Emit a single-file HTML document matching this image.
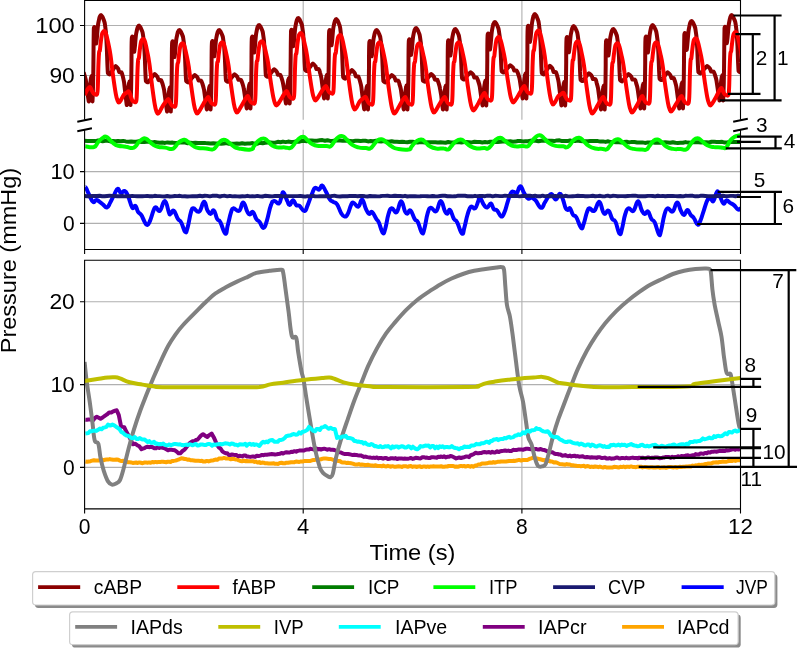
<!DOCTYPE html>
<html lang="en"><head><meta charset="utf-8"><title>Pressure traces</title>
<style>html,body{margin:0;padding:0;background:#fff;overflow:hidden;width:797px;height:649px}svg{display:block;will-change:transform}text{filter:grayscale(1)}</style></head>
<body>
<svg width="797" height="649" viewBox="0 0 797 649" font-family="'Liberation Sans', sans-serif" fill="#000">
<rect width="797" height="649" fill="#fff"/>
<defs>
<clipPath id="c1"><rect x="84.6" y="0.5" width="655.9" height="119.3"/></clipPath>
<clipPath id="c2"><rect x="84.6" y="129.8" width="655.9" height="119.7"/></clipPath>
<clipPath id="c3"><rect x="84.6" y="260.3" width="655.9" height="248.6"/></clipPath>
</defs>
<path d="M303.2 0.5V119.8 M303.2 129.8V249.5 M303.2 260.3V508.9 M521.9 0.5V119.8 M521.9 129.8V249.5 M521.9 260.3V508.9 M84.6 25.5H740.5 M84.6 75.5H740.5 M84.6 171.6H740.5 M84.6 223.4H740.5 M84.6 301.7H740.5 M84.6 384.6H740.5 M84.6 467.4H740.5" stroke="#b0b0b0" stroke-width="1.1" fill="none"/>
<path d="M83.6 72.1 C83.7 72.6 85.5 78.3 85.8 79.8 C86.1 81.3 87.6 93.5 87.8 94.9 C88.0 96.4 88.7 101.8 88.8 101.4 C88.9 101.0 89.8 90.2 89.9 88.5 C90.0 86.8 90.9 75.9 91.0 75.9 C91.1 75.9 91.7 86.8 91.8 88.5 C91.9 90.2 92.4 101.7 92.5 101.4 C92.6 101.1 93.0 87.3 93.1 84.1 C93.2 81.0 93.5 57.6 93.5 53.9 C93.5 50.3 93.7 30.7 93.8 28.9 C93.9 27.1 94.4 26.7 94.5 27.2 C94.6 27.7 95.3 35.6 95.4 36.7 C95.5 37.8 96.1 43.8 96.2 43.6 C96.3 43.4 97.1 35.4 97.2 34.1 C97.3 32.8 98.0 24.9 98.2 23.7 C98.4 22.6 99.5 17.4 99.7 16.8 C99.9 16.3 100.9 15.1 101.1 15.1 C101.3 15.1 102.3 16.6 102.5 16.9 C102.7 17.2 103.6 19.6 103.8 20.0 C104.0 20.5 104.8 23.2 104.9 24.1 C105.0 25.0 105.9 31.5 106.0 33.1 C106.1 34.6 106.7 45.4 106.8 47.5 C106.9 49.6 107.3 62.8 107.4 64.5 C107.5 66.3 107.7 72.4 107.9 73.1 C108.1 73.7 109.5 74.5 109.8 74.4 C110.0 74.3 111.4 72.1 111.7 71.7 C111.9 71.4 113.1 69.4 113.4 69.0 C113.6 68.7 115.3 65.9 115.6 65.9 C115.9 65.9 118.1 68.6 118.3 69.0 C118.5 69.5 119.0 72.0 119.2 72.2 C119.4 72.4 121.2 71.9 121.4 72.2 C121.7 72.5 122.6 75.5 122.8 76.2 C122.9 76.9 123.9 81.1 124.1 82.5 C124.3 84.0 125.7 96.8 125.9 98.3 C126.1 99.8 126.7 105.3 126.8 105.0 C126.9 104.7 127.8 94.7 127.9 93.1 C128.0 91.5 128.9 81.6 129.0 81.6 C129.1 81.6 129.7 91.5 129.8 93.1 C129.9 94.7 130.4 105.3 130.5 105.0 C130.6 104.7 131.0 92.0 131.1 89.1 C131.2 86.2 131.5 64.7 131.5 61.3 C131.5 57.9 131.7 39.9 131.8 38.3 C131.9 36.7 132.4 36.2 132.5 36.7 C132.6 37.2 133.3 44.4 133.4 45.5 C133.5 46.5 134.1 52.0 134.2 51.8 C134.3 51.6 135.1 44.3 135.2 43.1 C135.3 41.9 136.0 34.6 136.2 33.5 C136.4 32.5 137.5 27.7 137.7 27.2 C137.9 26.7 138.9 25.6 139.1 25.6 C139.3 25.6 140.3 27.0 140.5 27.3 C140.7 27.6 141.6 29.9 141.8 30.3 C142.0 30.8 142.8 33.4 142.9 34.2 C143.0 35.0 143.9 41.3 144.0 42.8 C144.1 44.3 144.7 54.5 144.8 56.5 C144.9 58.5 145.3 71.2 145.4 72.8 C145.5 74.5 145.7 80.4 145.9 81.0 C146.1 81.6 147.7 82.4 148.0 82.3 C148.3 82.2 149.9 80.1 150.1 79.7 C150.4 79.4 151.7 77.5 152.0 77.1 C152.3 76.8 154.2 74.1 154.5 74.1 C154.9 74.1 157.3 76.7 157.6 77.1 C157.8 77.5 158.3 79.9 158.6 80.1 C158.8 80.3 160.8 79.9 161.1 80.1 C161.3 80.4 162.4 83.4 162.6 84.0 C162.8 84.7 163.9 88.6 164.1 90.0 C164.3 91.4 165.9 103.6 166.1 105.1 C166.3 106.5 167.0 111.9 167.1 111.5 C167.2 111.1 168.1 100.9 168.2 99.3 C168.3 97.7 169.2 87.5 169.3 87.5 C169.4 87.5 170.0 97.7 170.1 99.3 C170.2 100.9 170.7 111.8 170.8 111.5 C170.9 111.2 171.3 98.2 171.4 95.2 C171.5 92.2 171.8 70.2 171.8 66.7 C171.8 63.3 172.0 44.8 172.1 43.1 C172.2 41.4 172.7 41.0 172.8 41.5 C172.9 42.0 173.6 49.4 173.7 50.5 C173.8 51.5 174.4 57.1 174.5 57.0 C174.6 56.8 175.4 49.3 175.5 48.0 C175.6 46.8 176.3 39.3 176.5 38.2 C176.7 37.2 177.8 32.3 178.0 31.7 C178.2 31.2 179.2 30.1 179.4 30.1 C179.6 30.1 180.6 31.4 180.8 31.7 C181.0 32.0 181.9 34.0 182.1 34.5 C182.3 34.9 183.1 37.3 183.2 38.0 C183.3 38.8 184.2 44.6 184.3 46.0 C184.4 47.3 185.0 56.8 185.1 58.6 C185.2 60.5 185.6 72.2 185.7 73.7 C185.8 75.2 186.0 80.7 186.2 81.2 C186.4 81.8 188.0 82.5 188.3 82.4 C188.5 82.4 190.1 80.4 190.3 80.1 C190.6 79.7 191.9 78.0 192.2 77.7 C192.5 77.3 194.3 74.9 194.6 74.9 C195.0 74.9 197.3 77.3 197.6 77.7 C197.8 78.1 198.3 80.3 198.6 80.5 C198.8 80.6 200.8 80.2 201.0 80.5 C201.3 80.7 202.3 83.4 202.5 84.0 C202.7 84.6 203.7 88.3 204.0 89.6 C204.2 90.9 205.7 102.1 205.9 103.5 C206.1 104.8 206.8 109.8 206.9 109.4 C207.0 109.0 207.9 99.1 208.0 97.5 C208.1 95.9 209.0 86.0 209.1 86.0 C209.2 86.0 209.8 95.9 209.9 97.5 C210.0 99.1 210.5 109.7 210.6 109.4 C210.7 109.1 211.1 96.4 211.2 93.5 C211.3 90.6 211.6 69.2 211.6 65.8 C211.6 62.4 211.8 44.4 211.9 42.8 C212.0 41.1 212.5 40.7 212.6 41.2 C212.7 41.7 213.4 48.9 213.5 49.9 C213.6 50.9 214.2 56.4 214.3 56.3 C214.4 56.1 215.2 48.8 215.3 47.5 C215.4 46.3 216.1 39.1 216.3 38.0 C216.5 37.0 217.6 32.2 217.8 31.7 C218.0 31.2 219.0 30.1 219.2 30.1 C219.4 30.1 220.4 31.4 220.6 31.7 C220.8 32.0 221.7 34.0 221.9 34.4 C222.1 34.8 222.9 37.2 223.0 37.9 C223.1 38.7 224.0 44.4 224.1 45.8 C224.2 47.1 224.8 56.5 224.9 58.3 C225.0 60.1 225.4 71.7 225.5 73.2 C225.6 74.7 225.8 80.0 226.0 80.6 C226.2 81.2 227.8 81.9 228.1 81.8 C228.3 81.7 229.9 79.7 230.1 79.4 C230.4 79.1 231.7 77.4 232.0 77.1 C232.3 76.7 234.1 74.3 234.5 74.3 C234.8 74.3 237.2 76.7 237.4 77.1 C237.7 77.4 238.2 79.6 238.4 79.8 C238.7 80.0 240.6 79.6 240.9 79.8 C241.1 80.1 242.2 82.7 242.4 83.3 C242.6 83.9 243.6 87.5 243.8 88.8 C244.1 90.1 245.6 101.2 245.8 102.5 C246.0 103.8 246.7 108.8 246.8 108.4 C246.9 108.0 247.8 97.5 247.9 95.9 C248.0 94.3 248.9 83.8 249.0 83.8 C249.1 83.8 249.7 94.3 249.8 95.9 C249.9 97.5 250.4 108.7 250.5 108.4 C250.6 108.1 251.0 94.8 251.1 91.7 C251.2 88.7 251.5 66.1 251.5 62.6 C251.5 59.0 251.7 40.1 251.8 38.4 C251.9 36.7 252.4 36.3 252.5 36.8 C252.6 37.3 253.3 44.9 253.4 45.9 C253.5 47.0 254.1 52.8 254.2 52.6 C254.3 52.4 255.1 44.7 255.2 43.4 C255.3 42.1 256.0 34.5 256.2 33.4 C256.4 32.3 257.5 27.3 257.7 26.8 C257.9 26.2 258.9 25.1 259.1 25.1 C259.3 25.1 260.3 26.4 260.5 26.7 C260.7 27.0 261.6 29.0 261.8 29.4 C262.0 29.8 262.8 32.2 262.9 32.9 C263.0 33.7 263.9 39.4 264.0 40.8 C264.1 42.1 264.7 51.5 264.8 53.3 C264.9 55.1 265.3 66.7 265.4 68.2 C265.5 69.7 265.7 75.0 265.9 75.6 C266.1 76.2 267.6 76.9 267.9 76.8 C268.2 76.7 269.6 74.7 269.9 74.4 C270.2 74.1 271.4 72.4 271.7 72.1 C272.0 71.7 273.7 69.3 274.1 69.3 C274.4 69.3 276.7 71.7 277.0 72.1 C277.2 72.4 277.7 74.6 277.9 74.8 C278.1 75.0 280.0 74.6 280.3 74.8 C280.5 75.1 281.5 77.7 281.7 78.3 C281.9 78.9 282.9 82.5 283.1 83.8 C283.4 85.1 284.9 96.2 285.0 97.5 C285.2 98.8 285.9 103.9 286.0 103.4 C286.1 102.9 287.0 92.3 287.1 90.6 C287.2 88.9 288.1 78.2 288.2 78.2 C288.3 78.2 288.9 88.9 289.0 90.6 C289.1 92.3 289.6 103.7 289.7 103.4 C289.8 103.1 290.2 89.5 290.3 86.3 C290.4 83.2 290.7 60.1 290.7 56.5 C290.7 52.8 290.9 33.5 291.0 31.7 C291.1 30.0 291.6 29.5 291.7 30.0 C291.8 30.6 292.5 38.3 292.6 39.4 C292.7 40.5 293.3 46.4 293.4 46.2 C293.5 46.1 294.3 38.2 294.4 36.9 C294.5 35.6 295.2 27.8 295.4 26.6 C295.6 25.5 296.7 20.4 296.9 19.8 C297.1 19.2 298.1 18.1 298.3 18.1 C298.5 18.1 299.5 19.4 299.7 19.7 C299.9 20.0 300.8 22.1 301.0 22.5 C301.2 22.9 302.0 25.4 302.1 26.1 C302.2 26.9 303.1 32.8 303.2 34.2 C303.3 35.6 303.9 45.1 304.0 47.0 C304.1 48.9 304.5 60.7 304.6 62.3 C304.7 63.8 304.9 69.3 305.1 69.9 C305.3 70.5 306.7 71.2 307.0 71.1 C307.2 71.0 308.6 69.0 308.9 68.7 C309.1 68.4 310.3 66.6 310.6 66.3 C310.9 65.9 312.5 63.5 312.8 63.5 C313.2 63.5 315.3 65.9 315.5 66.3 C315.8 66.7 316.2 68.9 316.4 69.1 C316.7 69.3 318.5 68.8 318.7 69.1 C318.9 69.3 319.9 72.1 320.0 72.7 C320.2 73.3 321.2 77.0 321.4 78.3 C321.6 79.6 323.0 91.0 323.2 92.4 C323.4 93.7 324.0 98.8 324.1 98.4 C324.2 98.0 325.1 88.1 325.2 86.5 C325.3 84.9 326.2 75.0 326.3 75.0 C326.4 75.0 327.0 84.9 327.1 86.5 C327.2 88.1 327.7 98.7 327.8 98.4 C327.9 98.1 328.3 85.4 328.4 82.5 C328.5 79.6 328.8 58.2 328.8 54.8 C328.8 51.4 329.0 33.4 329.1 31.8 C329.2 30.1 329.7 29.7 329.8 30.2 C329.9 30.7 330.6 37.9 330.7 38.9 C330.8 39.9 331.4 45.4 331.5 45.3 C331.6 45.1 332.4 37.8 332.5 36.5 C332.6 35.3 333.3 28.1 333.5 27.0 C333.7 26.0 334.8 21.2 335.0 20.7 C335.2 20.2 336.2 19.1 336.4 19.1 C336.6 19.1 337.6 20.6 337.8 20.9 C338.0 21.2 338.9 23.6 339.1 24.1 C339.3 24.5 340.1 27.3 340.2 28.1 C340.3 29.0 341.2 35.6 341.3 37.2 C341.4 38.7 342.0 49.5 342.1 51.6 C342.2 53.7 342.6 67.0 342.7 68.8 C342.8 70.5 343.0 76.7 343.2 77.3 C343.4 78.0 345.0 78.8 345.3 78.7 C345.6 78.6 347.1 76.4 347.4 76.0 C347.7 75.6 349.0 73.7 349.3 73.3 C349.6 72.9 351.4 70.1 351.8 70.1 C352.2 70.1 354.5 72.9 354.8 73.3 C355.1 73.7 355.6 76.2 355.8 76.4 C356.0 76.7 358.0 76.2 358.3 76.4 C358.6 76.7 359.6 79.8 359.8 80.5 C360.0 81.2 361.1 85.4 361.3 86.8 C361.5 88.3 363.1 101.1 363.3 102.6 C363.5 104.1 364.2 109.7 364.3 109.4 C364.4 109.1 365.3 99.1 365.4 97.5 C365.5 95.9 366.4 86.0 366.5 86.0 C366.6 86.0 367.2 95.9 367.3 97.5 C367.4 99.1 367.9 109.7 368.0 109.4 C368.1 109.1 368.5 96.4 368.6 93.5 C368.7 90.6 369.0 69.2 369.0 65.8 C369.0 62.4 369.2 44.4 369.3 42.8 C369.4 41.1 369.9 40.7 370.0 41.2 C370.1 41.7 370.8 48.9 370.9 49.9 C371.0 50.9 371.6 56.4 371.7 56.3 C371.8 56.1 372.6 48.8 372.7 47.5 C372.8 46.3 373.5 39.1 373.7 38.0 C373.9 37.0 375.0 32.2 375.2 31.7 C375.4 31.2 376.4 30.1 376.6 30.1 C376.8 30.1 377.8 31.4 378.0 31.7 C378.2 32.0 379.1 34.0 379.3 34.5 C379.5 34.9 380.3 37.3 380.4 38.0 C380.5 38.8 381.4 44.6 381.5 46.0 C381.6 47.3 382.2 56.8 382.3 58.6 C382.4 60.5 382.8 72.2 382.9 73.7 C383.0 75.2 383.2 80.7 383.4 81.2 C383.6 81.8 385.2 82.5 385.4 82.4 C385.7 82.4 387.2 80.4 387.5 80.1 C387.7 79.7 389.0 78.0 389.3 77.7 C389.6 77.3 391.4 74.9 391.7 74.9 C392.1 74.9 394.4 77.3 394.6 77.7 C394.9 78.1 395.4 80.3 395.6 80.5 C395.8 80.6 397.7 80.2 398.0 80.5 C398.3 80.7 399.3 83.4 399.4 84.0 C399.6 84.6 400.7 88.3 400.9 89.6 C401.1 90.9 402.6 102.1 402.8 103.5 C403.0 104.8 403.7 109.8 403.8 109.4 C403.9 109.0 404.8 98.8 404.9 97.2 C405.0 95.6 405.9 85.4 406.0 85.4 C406.1 85.4 406.7 95.6 406.8 97.2 C406.9 98.8 407.4 109.7 407.5 109.4 C407.6 109.1 408.0 96.1 408.1 93.1 C408.2 90.2 408.5 68.2 408.5 64.7 C408.5 61.2 408.7 42.8 408.8 41.1 C408.9 39.4 409.4 39.0 409.5 39.5 C409.6 40.0 410.3 47.4 410.4 48.4 C410.5 49.5 411.1 55.1 411.2 54.9 C411.3 54.8 412.1 47.2 412.2 46.0 C412.3 44.7 413.0 37.3 413.2 36.2 C413.4 35.1 414.5 30.3 414.7 29.7 C414.9 29.2 415.9 28.1 416.1 28.1 C416.3 28.1 417.3 29.4 417.5 29.7 C417.7 30.0 418.6 32.1 418.8 32.6 C419.0 33.0 419.8 35.4 419.9 36.2 C420.0 37.0 420.9 43.0 421.0 44.4 C421.1 45.8 421.7 55.5 421.8 57.4 C421.9 59.3 422.3 71.3 422.4 72.8 C422.5 74.4 422.7 79.9 422.9 80.5 C423.1 81.1 424.6 81.8 424.9 81.8 C425.2 81.7 426.6 79.6 426.9 79.3 C427.2 79.0 428.4 77.2 428.7 76.9 C429.0 76.5 430.7 74.0 431.1 74.0 C431.4 74.0 433.7 76.5 434.0 76.9 C434.2 77.3 434.7 79.5 434.9 79.7 C435.1 79.9 437.0 79.5 437.3 79.7 C437.5 80.0 438.5 82.8 438.7 83.4 C438.9 84.0 439.9 87.7 440.1 89.1 C440.4 90.4 441.9 101.9 442.0 103.3 C442.2 104.7 442.9 109.8 443.0 109.4 C443.1 109.0 444.0 98.9 444.1 97.4 C444.2 95.8 445.1 85.7 445.2 85.7 C445.3 85.7 445.9 95.8 446.0 97.4 C446.1 98.9 446.6 109.7 446.7 109.4 C446.8 109.1 447.2 96.3 447.3 93.3 C447.4 90.4 447.7 68.7 447.7 65.2 C447.7 61.8 447.9 43.6 448.0 41.9 C448.1 40.3 448.6 39.9 448.7 40.3 C448.8 40.8 449.5 48.2 449.6 49.2 C449.7 50.2 450.3 55.8 450.4 55.6 C450.5 55.4 451.3 48.0 451.4 46.8 C451.5 45.5 452.2 38.2 452.4 37.1 C452.6 36.1 453.7 31.2 453.9 30.7 C454.1 30.2 455.1 29.1 455.3 29.1 C455.5 29.1 456.5 30.3 456.7 30.6 C456.9 30.9 457.8 32.9 458.0 33.3 C458.2 33.7 459.0 36.0 459.1 36.7 C459.2 37.5 460.1 43.0 460.2 44.4 C460.3 45.7 460.9 54.8 461.0 56.6 C461.1 58.3 461.5 69.6 461.6 71.1 C461.7 72.5 461.9 77.8 462.1 78.3 C462.3 78.9 463.9 79.5 464.1 79.5 C464.4 79.4 465.9 77.5 466.2 77.2 C466.4 76.9 467.7 75.2 468.0 74.9 C468.3 74.5 470.1 72.2 470.5 72.2 C470.8 72.2 473.1 74.5 473.4 74.9 C473.6 75.2 474.1 77.4 474.3 77.6 C474.6 77.7 476.5 77.3 476.8 77.6 C477.0 77.8 478.0 80.4 478.2 81.0 C478.4 81.6 479.5 85.1 479.7 86.3 C479.9 87.6 481.4 98.4 481.6 99.7 C481.8 100.9 482.5 105.9 482.6 105.4 C482.7 104.9 483.6 94.5 483.7 92.9 C483.8 91.3 484.7 80.8 484.8 80.8 C484.9 80.8 485.5 91.3 485.6 92.9 C485.7 94.5 486.2 105.7 486.3 105.4 C486.4 105.1 486.8 91.8 486.9 88.7 C487.0 85.7 487.3 63.1 487.3 59.6 C487.3 56.0 487.5 37.1 487.6 35.4 C487.7 33.7 488.2 33.3 488.3 33.8 C488.4 34.3 489.1 41.9 489.2 42.9 C489.3 44.0 489.9 49.8 490.0 49.6 C490.1 49.4 490.9 41.7 491.0 40.4 C491.1 39.1 491.8 31.5 492.0 30.4 C492.2 29.3 493.3 24.3 493.5 23.8 C493.7 23.2 494.7 22.1 494.9 22.1 C495.1 22.1 496.1 23.3 496.3 23.6 C496.5 23.9 497.4 25.9 497.6 26.3 C497.8 26.7 498.6 29.0 498.7 29.7 C498.8 30.5 499.7 36.0 499.8 37.4 C499.9 38.7 500.5 47.8 500.6 49.6 C500.7 51.3 501.1 62.6 501.2 64.1 C501.3 65.5 501.5 70.8 501.7 71.3 C501.9 71.9 503.5 72.5 503.8 72.5 C504.1 72.4 505.6 70.5 505.9 70.2 C506.1 69.9 507.5 68.2 507.8 67.9 C508.1 67.5 509.9 65.2 510.3 65.2 C510.6 65.2 513.0 67.5 513.2 67.9 C513.5 68.2 514.0 70.4 514.2 70.6 C514.5 70.7 516.5 70.3 516.7 70.6 C517.0 70.8 518.0 73.4 518.2 74.0 C518.4 74.6 519.5 78.1 519.7 79.3 C519.9 80.6 521.5 91.4 521.7 92.7 C521.9 93.9 522.6 98.9 522.7 98.4 C522.8 97.9 523.7 87.4 523.8 85.8 C523.9 84.1 524.8 73.5 524.9 73.5 C525.0 73.5 525.6 84.1 525.7 85.8 C525.8 87.4 526.3 98.7 526.4 98.4 C526.5 98.1 526.9 84.6 527.0 81.5 C527.1 78.4 527.4 55.6 527.4 52.0 C527.4 48.4 527.6 29.3 527.7 27.6 C527.8 25.8 528.3 25.4 528.4 25.9 C528.5 26.4 529.2 34.1 529.3 35.2 C529.4 36.2 530.0 42.1 530.1 41.9 C530.2 41.8 531.0 33.9 531.1 32.6 C531.2 31.4 531.9 23.7 532.1 22.5 C532.3 21.4 533.4 16.3 533.6 15.8 C533.8 15.2 534.8 14.1 535.0 14.1 C535.2 14.1 536.2 15.6 536.4 15.9 C536.6 16.3 537.5 18.6 537.7 19.1 C537.9 19.6 538.7 22.3 538.8 23.2 C538.9 24.1 539.8 30.8 539.9 32.4 C540.0 33.9 540.6 44.8 540.7 47.0 C540.8 49.1 541.2 62.6 541.3 64.3 C541.4 66.0 541.6 72.3 541.8 73.0 C542.0 73.7 543.5 74.4 543.8 74.4 C544.0 74.3 545.5 72.0 545.7 71.6 C546.0 71.3 547.2 69.3 547.5 68.9 C547.8 68.5 549.5 65.7 549.8 65.7 C550.2 65.7 552.4 68.5 552.6 68.9 C552.9 69.3 553.3 71.9 553.6 72.1 C553.8 72.3 555.6 71.8 555.9 72.1 C556.1 72.3 557.1 75.5 557.3 76.2 C557.5 76.9 558.5 81.1 558.7 82.6 C558.9 84.1 560.4 97.0 560.6 98.6 C560.8 100.1 561.4 105.7 561.5 105.4 C561.6 105.1 562.5 95.1 562.6 93.5 C562.7 91.9 563.6 82.0 563.7 82.0 C563.8 82.0 564.4 91.9 564.5 93.5 C564.6 95.1 565.1 105.7 565.2 105.4 C565.3 105.1 565.7 92.4 565.8 89.5 C565.9 86.6 566.2 65.2 566.2 61.8 C566.2 58.4 566.4 40.4 566.5 38.8 C566.6 37.1 567.1 36.7 567.2 37.2 C567.3 37.7 568.0 44.9 568.1 45.9 C568.2 46.9 568.8 52.4 568.9 52.3 C569.0 52.1 569.8 44.8 569.9 43.5 C570.0 42.3 570.7 35.1 570.9 34.0 C571.1 33.0 572.2 28.2 572.4 27.7 C572.6 27.2 573.6 26.1 573.8 26.1 C574.0 26.1 575.0 27.5 575.2 27.8 C575.4 28.1 576.3 30.2 576.5 30.7 C576.7 31.1 577.5 33.6 577.6 34.4 C577.7 35.2 578.6 41.3 578.7 42.8 C578.8 44.2 579.4 54.1 579.5 56.1 C579.6 58.0 580.0 70.3 580.1 71.9 C580.2 73.5 580.4 79.2 580.6 79.8 C580.8 80.4 582.4 81.2 582.6 81.1 C582.9 81.0 584.4 78.9 584.7 78.6 C584.9 78.2 586.2 76.4 586.5 76.1 C586.8 75.7 588.6 73.2 588.9 73.2 C589.3 73.2 591.6 75.7 591.8 76.1 C592.1 76.5 592.6 78.8 592.8 79.0 C593.0 79.2 594.9 78.7 595.2 79.0 C595.5 79.2 596.5 82.1 596.6 82.7 C596.8 83.4 597.9 87.2 598.1 88.6 C598.3 89.9 599.8 101.8 600.0 103.2 C600.2 104.5 600.9 109.8 601.0 109.4 C601.1 109.0 602.0 98.9 602.1 97.4 C602.2 95.8 603.1 85.7 603.2 85.7 C603.3 85.7 603.9 95.8 604.0 97.4 C604.1 98.9 604.6 109.7 604.7 109.4 C604.8 109.1 605.2 96.3 605.3 93.3 C605.4 90.4 605.7 68.7 605.7 65.2 C605.7 61.8 605.9 43.6 606.0 41.9 C606.1 40.3 606.6 39.9 606.7 40.3 C606.8 40.8 607.5 48.2 607.6 49.2 C607.7 50.2 608.3 55.8 608.4 55.6 C608.5 55.4 609.3 48.0 609.4 46.8 C609.5 45.5 610.2 38.2 610.4 37.1 C610.6 36.1 611.7 31.2 611.9 30.7 C612.1 30.2 613.1 29.1 613.3 29.1 C613.5 29.1 614.5 30.4 614.7 30.7 C614.9 31.0 615.8 33.0 616.0 33.5 C616.2 33.9 617.0 36.3 617.1 37.0 C617.2 37.8 618.1 43.6 618.2 45.0 C618.3 46.3 618.9 55.8 619.0 57.6 C619.1 59.5 619.5 71.2 619.6 72.7 C619.7 74.2 619.9 79.7 620.1 80.2 C620.3 80.8 621.9 81.5 622.1 81.4 C622.4 81.4 623.9 79.4 624.2 79.1 C624.4 78.7 625.7 77.0 626.0 76.7 C626.3 76.3 628.1 73.9 628.4 73.9 C628.8 73.9 631.1 76.3 631.3 76.7 C631.6 77.1 632.1 79.3 632.3 79.5 C632.5 79.6 634.4 79.2 634.7 79.5 C635.0 79.7 636.0 82.4 636.1 83.0 C636.3 83.6 637.4 87.3 637.6 88.6 C637.8 89.9 639.3 101.1 639.5 102.5 C639.7 103.8 640.4 108.8 640.5 108.4 C640.6 108.0 641.5 97.5 641.6 95.9 C641.7 94.3 642.6 83.8 642.7 83.8 C642.8 83.8 643.4 94.3 643.5 95.9 C643.6 97.5 644.1 108.7 644.2 108.4 C644.3 108.1 644.7 94.8 644.8 91.7 C644.9 88.7 645.2 66.1 645.2 62.6 C645.2 59.0 645.4 40.1 645.5 38.4 C645.6 36.7 646.1 36.3 646.2 36.8 C646.3 37.3 647.0 44.9 647.1 45.9 C647.2 47.0 647.8 52.8 647.9 52.6 C648.0 52.4 648.8 44.7 648.9 43.4 C649.0 42.1 649.7 34.5 649.9 33.4 C650.1 32.3 651.2 27.3 651.4 26.8 C651.6 26.2 652.6 25.1 652.8 25.1 C653.0 25.1 654.0 26.5 654.2 26.8 C654.4 27.1 655.3 29.2 655.5 29.7 C655.7 30.1 656.5 32.6 656.6 33.4 C656.7 34.2 657.6 40.3 657.7 41.8 C657.8 43.2 658.4 53.1 658.5 55.1 C658.6 57.0 659.0 69.3 659.1 70.9 C659.2 72.5 659.4 78.2 659.6 78.8 C659.8 79.4 661.3 80.2 661.6 80.1 C661.8 80.0 663.3 77.9 663.5 77.6 C663.8 77.2 665.0 75.4 665.3 75.1 C665.6 74.7 667.3 72.2 667.6 72.2 C668.0 72.2 670.2 74.7 670.4 75.1 C670.7 75.5 671.1 77.8 671.4 78.0 C671.6 78.2 673.4 77.7 673.7 78.0 C673.9 78.2 674.9 81.1 675.1 81.7 C675.3 82.4 676.3 86.2 676.5 87.6 C676.7 88.9 678.2 100.8 678.4 102.2 C678.6 103.5 679.2 108.9 679.3 108.4 C679.4 107.9 680.3 97.0 680.4 95.3 C680.5 93.6 681.4 82.6 681.5 82.6 C681.6 82.6 682.2 93.6 682.3 95.3 C682.4 97.0 682.9 108.7 683.0 108.4 C683.1 108.1 683.5 94.1 683.6 90.9 C683.7 87.7 684.0 64.1 684.0 60.4 C684.0 56.7 684.2 36.9 684.3 35.1 C684.4 33.3 684.9 32.8 685.0 33.3 C685.1 33.8 685.8 41.8 685.9 42.9 C686.0 44.0 686.6 50.1 686.7 49.9 C686.8 49.7 687.6 41.6 687.7 40.3 C687.8 39.0 688.5 31.0 688.7 29.8 C688.9 28.7 690.0 23.4 690.2 22.8 C690.4 22.3 691.4 21.1 691.6 21.1 C691.8 21.1 692.8 22.4 693.0 22.7 C693.2 23.0 694.1 25.0 694.3 25.5 C694.5 25.9 695.3 28.3 695.4 29.0 C695.5 29.8 696.4 35.6 696.5 37.0 C696.6 38.3 697.2 47.8 697.3 49.6 C697.4 51.5 697.8 63.2 697.9 64.7 C698.0 66.2 698.2 71.7 698.4 72.2 C698.6 72.8 700.2 73.5 700.5 73.4 C700.8 73.4 702.3 71.4 702.6 71.1 C702.9 70.7 704.2 69.0 704.5 68.7 C704.8 68.3 706.6 65.9 707.0 65.9 C707.4 65.9 709.7 68.3 710.0 68.7 C710.3 69.1 710.8 71.3 711.0 71.5 C711.2 71.6 713.2 71.2 713.5 71.5 C713.8 71.7 714.8 74.4 715.0 75.0 C715.2 75.6 716.3 79.3 716.5 80.6 C716.7 81.9 718.3 93.1 718.5 94.5 C718.7 95.8 719.4 100.9 719.5 100.4 C719.6 99.9 720.5 89.3 720.6 87.6 C720.7 85.9 721.6 75.2 721.7 75.2 C721.8 75.2 722.4 85.9 722.5 87.6 C722.6 89.3 723.1 100.7 723.2 100.4 C723.3 100.1 723.7 86.5 723.8 83.3 C723.9 80.2 724.2 57.1 724.2 53.5 C724.2 49.8 724.4 30.5 724.5 28.7 C724.6 27.0 725.1 26.5 725.2 27.0 C725.3 27.6 726.0 35.3 726.1 36.4 C726.2 37.5 726.8 43.4 726.9 43.2 C727.0 43.1 727.8 35.2 727.9 33.9 C728.0 32.6 728.7 24.8 728.9 23.6 C729.1 22.5 730.2 17.4 730.4 16.8 C730.6 16.2 731.6 15.1 731.8 15.1 C732.0 15.1 733.0 16.5 733.2 16.8 C733.4 17.2 734.3 19.4 734.5 19.9 C734.7 20.3 735.5 22.9 735.6 23.8 C735.7 24.6 736.6 31.0 736.7 32.5 C736.8 34.0 737.4 44.4 737.5 46.4 C737.6 48.4 738.0 61.2 738.1 62.9 C738.2 64.5 738.4 70.5 738.6 71.2 C738.8 71.8 740.4 72.5 740.6 72.5 C740.9 72.4 742.4 70.2 742.6 69.8 C742.9 69.5 744.2 67.6 744.5 67.2 C744.8 66.9 746.5 64.2 746.9 64.2 C747.2 64.2 749.5 66.8 749.8 67.2 C750.0 67.6 750.5 70.1 750.7 70.3 C750.9 70.5 752.9 70.0 753.1 70.3 C753.4 70.5 754.4 73.5 754.6 74.2 C754.8 74.9 755.8 78.9 756.0 80.3 C756.2 81.7 757.8 94.5 757.9 95.5" stroke="#8b0000" stroke-width="4.0" fill="none" stroke-linejoin="round" stroke-linecap="butt" clip-path="url(#c1)"/>
<path d="M84.6 95.0 C85.1 94.0 86.0 91.6 87.1 90.0 C88.2 88.4 89.1 86.9 90.0 87.0 C90.9 87.1 91.1 89.3 91.8 90.6 C92.5 91.9 92.8 92.7 93.5 93.4 C94.2 94.2 94.7 94.2 95.4 94.4 C96.1 94.5 96.6 95.4 97.1 94.0 C97.6 92.6 97.5 93.5 97.8 87.3 C98.1 81.1 98.2 70.0 98.5 63.0 C98.8 56.1 98.8 55.1 99.1 52.5 C99.4 50.0 99.6 52.4 99.9 50.3 C100.2 48.2 100.4 45.1 100.8 42.0 C101.2 38.8 101.5 36.6 101.9 34.6 C102.3 32.6 102.6 32.6 103.0 31.9 C103.4 31.2 103.6 31.1 104.1 31.1 C104.6 31.1 104.9 31.2 105.3 32.0 C105.7 32.7 105.7 32.6 106.3 34.7 C106.9 36.8 107.3 38.5 108.1 42.5 C108.9 46.5 109.4 47.9 110.4 54.6 C111.4 61.3 112.0 68.2 113.1 76.0 C114.2 83.9 114.9 89.0 115.8 93.8 C116.7 98.7 116.9 98.5 117.5 100.3 C118.1 102.0 118.1 102.4 118.8 102.4 C119.5 102.4 119.8 101.8 120.8 100.3 C121.8 98.7 122.9 96.0 124.0 94.6 C125.1 93.1 125.5 93.5 126.5 92.9 C127.5 92.3 128.1 90.8 129.0 91.5 C129.9 92.2 130.1 94.6 130.8 96.5 C131.5 98.3 131.8 99.8 132.5 100.9 C133.2 102.0 133.7 101.7 134.4 101.9 C135.1 102.0 135.6 102.9 136.1 101.5 C136.6 100.2 136.5 101.0 136.8 94.9 C137.1 88.7 137.2 77.7 137.5 70.8 C137.8 63.8 137.8 62.8 138.1 60.3 C138.4 57.7 138.6 60.1 138.9 58.0 C139.2 56.0 139.4 52.9 139.8 49.8 C140.2 46.7 140.5 44.5 140.9 42.5 C141.3 40.5 141.6 40.5 142.0 39.8 C142.4 39.1 142.6 39.0 143.1 39.0 C143.6 39.0 143.9 39.1 144.3 39.9 C144.7 40.6 144.7 40.5 145.3 42.7 C145.9 44.9 146.3 46.8 147.1 51.0 C147.9 55.1 148.4 56.6 149.4 63.7 C150.4 70.7 151.0 77.8 152.1 86.1 C153.2 94.3 153.9 99.7 154.8 104.7 C155.7 109.8 155.9 109.7 156.5 111.5 C157.1 113.3 157.1 113.7 157.8 113.7 C158.5 113.7 158.8 113.1 159.8 111.5 C160.8 109.8 161.8 107.4 163.0 105.5 C164.2 103.6 164.6 103.2 165.7 101.9 C166.7 100.6 167.4 98.9 168.3 99.0 C169.2 99.1 169.4 101.3 170.1 102.6 C170.8 103.9 171.1 104.7 171.8 105.4 C172.5 106.2 173.0 106.2 173.7 106.4 C174.4 106.5 174.9 107.4 175.4 106.0 C175.9 104.6 175.8 105.5 176.1 99.3 C176.4 93.2 176.5 82.1 176.8 75.1 C177.1 68.1 177.1 67.1 177.4 64.6 C177.7 62.0 177.9 64.4 178.2 62.3 C178.5 60.2 178.7 57.2 179.1 54.0 C179.5 50.9 179.8 48.7 180.2 46.7 C180.6 44.7 180.9 44.7 181.3 44.0 C181.7 43.3 181.9 43.2 182.4 43.2 C182.9 43.2 183.2 43.3 183.6 44.0 C184.0 44.7 184.0 44.6 184.6 46.7 C185.2 48.8 185.6 50.5 186.4 54.4 C187.2 58.4 187.7 59.8 188.7 66.4 C189.7 73.0 190.3 79.8 191.4 87.5 C192.5 95.2 193.2 100.3 194.1 105.1 C195.0 109.8 195.2 109.7 195.8 111.4 C196.4 113.1 196.4 113.5 197.1 113.5 C197.8 113.5 198.1 112.9 199.1 111.4 C200.1 109.8 201.1 107.9 202.3 105.8 C203.5 103.7 204.0 102.7 205.2 100.9 C206.4 99.1 207.2 97.0 208.1 96.9 C209.0 96.8 209.2 99.2 209.9 100.5 C210.6 101.8 210.9 102.6 211.6 103.3 C212.3 104.1 212.8 104.1 213.5 104.3 C214.2 104.4 214.7 105.3 215.2 104.0 C215.7 102.6 215.6 103.5 215.9 97.4 C216.2 91.3 216.3 80.4 216.6 73.6 C216.9 66.7 216.9 65.7 217.2 63.2 C217.5 60.7 217.7 63.1 218.0 61.0 C218.3 58.9 218.5 55.9 218.9 52.9 C219.3 49.8 219.6 47.6 220.0 45.6 C220.4 43.7 220.7 43.6 221.1 43.0 C221.5 42.3 221.7 42.2 222.2 42.2 C222.7 42.2 223.0 42.3 223.4 43.0 C223.8 43.7 223.8 43.6 224.4 45.7 C225.0 47.8 225.4 49.5 226.2 53.4 C227.0 57.4 227.5 58.8 228.5 65.4 C229.5 72.0 230.1 78.7 231.2 86.4 C232.3 94.1 233.0 99.2 233.9 104.0 C234.8 108.7 235.0 108.6 235.6 110.3 C236.2 112.0 236.2 112.4 236.9 112.4 C237.6 112.4 237.9 111.8 238.9 110.3 C239.9 108.7 240.9 106.8 242.1 104.7 C243.3 102.6 243.8 101.6 244.8 99.9 C245.9 98.1 246.7 96.0 247.6 95.9 C248.5 95.8 248.7 98.2 249.4 99.5 C250.1 100.8 250.4 101.6 251.1 102.3 C251.8 103.1 252.3 103.1 253.0 103.3 C253.7 103.4 254.2 104.3 254.7 103.0 C255.2 101.6 255.1 102.5 255.4 96.4 C255.7 90.3 255.8 79.4 256.1 72.6 C256.4 65.7 256.4 64.7 256.7 62.2 C257.0 59.7 257.2 62.1 257.5 60.0 C257.8 57.9 258.0 54.9 258.4 51.9 C258.8 48.8 259.1 46.6 259.5 44.6 C259.9 42.7 260.2 42.6 260.6 42.0 C261.0 41.3 261.2 41.2 261.7 41.2 C262.2 41.2 262.5 41.3 262.9 42.0 C263.3 42.6 263.3 42.5 263.9 44.4 C264.5 46.3 264.9 47.9 265.7 51.5 C266.5 55.1 267.0 56.4 268.0 62.4 C269.0 68.4 269.6 74.6 270.7 81.6 C271.8 88.7 272.5 93.3 273.4 97.7 C274.3 102.1 274.5 101.9 275.1 103.5 C275.7 105.0 275.7 105.4 276.4 105.4 C277.1 105.4 277.4 104.9 278.4 103.5 C279.4 102.1 280.5 100.2 281.6 98.3 C282.7 96.5 283.1 95.7 284.1 94.2 C285.1 92.8 285.7 90.8 286.6 90.9 C287.5 91.0 287.7 93.2 288.4 94.5 C289.1 95.8 289.4 96.5 290.1 97.3 C290.8 98.0 291.3 98.1 292.0 98.2 C292.7 98.4 293.2 99.4 293.7 97.9 C294.2 96.5 294.1 97.4 294.4 91.0 C294.7 84.6 294.8 73.2 295.1 66.0 C295.4 58.8 295.4 57.8 295.7 55.1 C296.0 52.5 296.2 55.0 296.5 52.8 C296.8 50.7 297.0 47.5 297.4 44.3 C297.8 41.1 298.1 38.8 298.5 36.7 C298.9 34.6 299.2 34.6 299.6 33.9 C300.0 33.2 300.2 33.1 300.7 33.1 C301.2 33.1 301.5 33.2 301.9 33.9 C302.3 34.6 302.3 34.5 302.9 36.5 C303.5 38.5 303.9 40.1 304.7 43.9 C305.5 47.6 306.0 49.0 307.0 55.3 C308.0 61.6 308.6 68.1 309.7 75.5 C310.8 82.9 311.5 87.7 312.4 92.3 C313.3 96.9 313.5 96.8 314.1 98.4 C314.7 100.0 314.7 100.4 315.4 100.4 C316.1 100.4 316.4 99.9 317.4 98.4 C318.4 96.9 319.4 94.9 320.6 93.0 C321.8 91.1 322.2 90.5 323.2 89.1 C324.3 87.7 325.0 85.8 325.9 85.9 C326.8 86.0 327.0 88.2 327.7 89.5 C328.4 90.8 328.7 91.7 329.4 92.4 C330.1 93.2 330.6 93.2 331.3 93.3 C332.0 93.4 332.5 94.3 333.0 93.0 C333.5 91.7 333.4 92.5 333.7 86.8 C334.0 81.1 334.1 70.9 334.4 64.5 C334.7 58.1 334.7 57.1 335.0 54.8 C335.3 52.4 335.5 54.7 335.8 52.7 C336.1 50.8 336.3 48.0 336.7 45.1 C337.1 42.2 337.4 40.2 337.8 38.3 C338.2 36.5 338.5 36.5 338.9 35.8 C339.3 35.2 339.5 35.1 340.0 35.1 C340.5 35.1 340.8 35.2 341.2 36.0 C341.6 36.7 341.6 36.6 342.2 38.8 C342.8 41.0 343.2 42.8 344.0 47.0 C344.8 51.1 345.3 52.6 346.3 59.6 C347.3 66.6 347.9 73.7 349.0 81.9 C350.1 90.1 350.8 95.4 351.7 100.5 C352.6 105.5 352.8 105.4 353.4 107.2 C354.0 109.0 354.0 109.4 354.7 109.4 C355.4 109.4 355.7 108.8 356.7 107.2 C357.7 105.5 358.7 102.9 359.9 101.2 C361.1 99.6 361.6 99.7 362.7 98.8 C363.8 98.0 364.6 96.6 365.5 96.9 C366.4 97.2 366.6 99.2 367.3 100.5 C368.0 101.8 368.3 102.6 369.0 103.3 C369.7 104.1 370.2 104.1 370.9 104.3 C371.6 104.4 372.1 105.3 372.6 104.0 C373.1 102.6 373.0 103.5 373.3 97.4 C373.6 91.3 373.7 80.4 374.0 73.6 C374.3 66.7 374.3 65.7 374.6 63.2 C374.9 60.7 375.1 63.1 375.4 61.0 C375.7 58.9 375.9 55.9 376.3 52.9 C376.7 49.8 377.0 47.6 377.4 45.6 C377.8 43.7 378.1 43.6 378.5 43.0 C378.9 42.3 379.1 42.2 379.6 42.2 C380.1 42.2 380.4 42.3 380.8 43.1 C381.2 43.8 381.2 43.7 381.8 45.8 C382.4 47.9 382.8 49.6 383.6 53.6 C384.4 57.6 384.9 59.0 385.9 65.7 C386.9 72.4 387.5 79.3 388.6 87.1 C389.7 95.0 390.4 100.1 391.3 104.9 C392.2 109.8 392.4 109.6 393.0 111.4 C393.6 113.1 393.6 113.5 394.3 113.5 C395.0 113.5 395.3 112.9 396.3 111.4 C397.3 109.8 398.3 107.8 399.5 105.7 C400.7 103.6 401.2 102.6 402.3 100.8 C403.4 99.1 404.2 97.0 405.1 96.9 C406.0 96.8 406.2 99.2 406.9 100.5 C407.6 101.8 407.9 102.6 408.6 103.4 C409.3 104.1 409.8 104.2 410.5 104.3 C411.2 104.4 411.7 105.3 412.2 104.0 C412.7 102.6 412.6 103.5 412.9 97.5 C413.2 91.5 413.3 80.8 413.6 74.1 C413.9 67.3 413.9 66.3 414.2 63.9 C414.5 61.4 414.7 63.7 415.0 61.7 C415.3 59.7 415.5 56.7 415.9 53.7 C416.3 50.7 416.6 48.5 417.0 46.6 C417.4 44.6 417.7 44.6 418.1 43.9 C418.5 43.3 418.7 43.2 419.2 43.2 C419.7 43.2 420.0 43.3 420.4 44.0 C420.8 44.7 420.8 44.6 421.4 46.7 C422.0 48.7 422.4 50.4 423.2 54.3 C424.0 58.1 424.5 59.5 425.5 66.0 C426.5 72.5 427.1 79.2 428.2 86.8 C429.3 94.4 430.0 99.4 430.9 104.1 C431.8 108.8 432.0 108.7 432.6 110.3 C433.2 112.0 433.2 112.4 433.9 112.4 C434.6 112.4 434.9 111.8 435.9 110.3 C436.9 108.8 437.9 106.8 439.1 104.8 C440.3 102.8 440.7 102.0 441.8 100.4 C442.9 98.9 443.7 96.9 444.6 96.9 C445.5 96.9 445.7 99.2 446.4 100.5 C447.1 101.8 447.4 102.6 448.1 103.3 C448.8 104.1 449.3 104.1 450.0 104.3 C450.7 104.4 451.2 105.3 451.7 104.0 C452.2 102.6 452.1 103.5 452.4 97.4 C452.7 91.3 452.8 80.4 453.1 73.6 C453.4 66.7 453.4 65.7 453.7 63.2 C454.0 60.7 454.2 63.1 454.5 61.0 C454.8 58.9 455.0 55.9 455.4 52.9 C455.8 49.8 456.1 47.6 456.5 45.6 C456.9 43.7 457.2 43.6 457.6 43.0 C458.0 42.3 458.2 42.2 458.7 42.2 C459.2 42.2 459.5 42.3 459.9 43.0 C460.3 43.7 460.3 43.6 460.9 45.6 C461.5 47.6 461.9 49.3 462.7 53.1 C463.5 56.9 464.0 58.3 465.0 64.7 C466.0 71.1 466.6 77.7 467.7 85.2 C468.8 92.7 469.5 97.6 470.4 102.2 C471.3 106.9 471.5 106.7 472.1 108.4 C472.7 110.0 472.7 110.4 473.4 110.4 C474.1 110.4 474.4 109.9 475.4 108.4 C476.4 106.9 477.4 105.1 478.6 102.9 C479.8 100.7 480.3 99.4 481.5 97.4 C482.7 95.4 483.5 93.1 484.4 92.9 C485.3 92.7 485.5 95.2 486.2 96.5 C486.9 97.8 487.2 98.6 487.9 99.3 C488.6 100.1 489.1 100.1 489.8 100.3 C490.5 100.4 491.0 101.3 491.5 99.9 C492.0 98.5 491.9 99.4 492.2 93.2 C492.5 87.1 492.6 76.0 492.9 69.0 C493.2 62.0 493.2 61.0 493.5 58.5 C493.8 55.9 494.0 58.3 494.3 56.2 C494.6 54.1 494.8 51.1 495.2 47.9 C495.6 44.8 495.9 42.6 496.3 40.6 C496.7 38.6 497.0 38.6 497.4 37.9 C497.8 37.2 498.0 37.1 498.5 37.1 C499.0 37.1 499.3 37.2 499.7 37.9 C500.1 38.5 500.1 38.4 500.7 40.4 C501.3 42.3 501.7 43.9 502.5 47.5 C503.3 51.2 503.8 52.5 504.8 58.6 C505.8 64.8 506.4 71.1 507.5 78.2 C508.6 85.4 509.3 90.1 510.2 94.6 C511.1 99.0 511.3 98.9 511.9 100.4 C512.5 102.0 512.5 102.4 513.2 102.4 C513.9 102.4 514.2 101.9 515.2 100.4 C516.2 99.0 517.2 97.3 518.4 95.2 C519.6 93.1 520.1 92.0 521.3 90.1 C522.5 88.2 523.3 86.0 524.2 85.9 C525.1 85.8 525.3 88.2 526.0 89.5 C526.7 90.8 527.0 91.6 527.7 92.3 C528.4 93.1 528.9 93.1 529.6 93.3 C530.3 93.4 530.8 94.3 531.3 93.0 C531.8 91.6 531.7 92.4 532.0 86.3 C532.3 80.2 532.4 69.1 532.7 62.2 C533.0 55.4 533.0 54.3 533.3 51.8 C533.6 49.3 533.8 51.7 534.1 49.6 C534.4 47.5 534.6 44.5 535.0 41.4 C535.4 38.3 535.7 36.1 536.1 34.1 C536.5 32.1 536.8 32.1 537.2 31.4 C537.6 30.7 537.8 30.6 538.3 30.6 C538.8 30.6 539.1 30.7 539.5 31.5 C539.9 32.2 539.9 32.1 540.5 34.3 C541.1 36.5 541.5 38.3 542.3 42.4 C543.1 46.5 543.6 48.0 544.6 55.0 C545.6 61.9 546.2 69.0 547.3 77.1 C548.4 85.2 549.1 90.5 550.0 95.5 C550.9 100.6 551.1 100.4 551.7 102.2 C552.3 104.0 552.3 104.4 553.0 104.4 C553.7 104.4 554.0 103.8 555.0 102.2 C556.0 100.6 557.0 97.8 558.2 96.3 C559.4 94.7 559.8 95.1 560.8 94.4 C561.9 93.7 562.6 92.5 563.5 92.9 C564.4 93.3 564.6 95.2 565.3 96.5 C566.0 97.8 566.3 98.6 567.0 99.4 C567.7 100.2 568.2 100.2 568.9 100.3 C569.6 100.4 570.1 101.3 570.6 100.0 C571.1 98.7 571.0 99.5 571.3 93.7 C571.6 87.9 571.7 77.6 572.0 71.1 C572.3 64.5 572.3 63.6 572.6 61.2 C572.9 58.8 573.1 61.1 573.4 59.1 C573.7 57.1 573.9 54.3 574.3 51.3 C574.7 48.4 575.0 46.4 575.4 44.5 C575.8 42.6 576.1 42.6 576.5 41.9 C576.9 41.3 577.1 41.2 577.6 41.2 C578.1 41.2 578.4 41.3 578.8 42.1 C579.2 42.8 579.2 42.7 579.8 44.8 C580.4 47.0 580.8 48.7 581.6 52.8 C582.4 56.8 582.9 58.3 583.9 65.1 C584.9 71.9 585.5 78.8 586.6 86.7 C587.7 94.7 588.4 99.9 589.3 104.8 C590.2 109.7 590.4 109.6 591.0 111.3 C591.6 113.1 591.6 113.5 592.3 113.5 C593.0 113.5 593.3 112.9 594.3 111.3 C595.3 109.7 596.3 107.7 597.5 105.5 C598.7 103.4 599.2 102.5 600.3 100.8 C601.5 99.1 602.3 97.0 603.2 96.9 C604.1 96.8 604.3 99.2 605.0 100.5 C605.7 101.8 606.0 102.6 606.7 103.4 C607.4 104.1 607.9 104.2 608.6 104.3 C609.3 104.4 609.8 105.3 610.3 104.0 C610.8 102.6 610.7 103.5 611.0 97.5 C611.3 91.5 611.4 80.8 611.7 74.1 C612.0 67.3 612.0 66.3 612.3 63.9 C612.6 61.4 612.8 63.7 613.1 61.7 C613.4 59.7 613.6 56.7 614.0 53.7 C614.4 50.7 614.7 48.5 615.1 46.6 C615.5 44.6 615.8 44.6 616.2 43.9 C616.6 43.3 616.8 43.2 617.3 43.2 C617.8 43.2 618.1 43.3 618.5 44.0 C618.9 44.7 618.9 44.6 619.5 46.7 C620.1 48.7 620.5 50.4 621.3 54.3 C622.1 58.1 622.6 59.5 623.6 66.0 C624.6 72.5 625.2 79.2 626.3 86.8 C627.4 94.4 628.1 99.4 629.0 104.1 C629.9 108.8 630.1 108.7 630.7 110.3 C631.3 112.0 631.3 112.4 632.0 112.4 C632.7 112.4 633.0 111.8 634.0 110.3 C635.0 108.8 636.1 106.9 637.2 104.8 C638.3 102.7 638.7 101.7 639.7 99.9 C640.7 98.1 641.3 96.0 642.2 95.9 C643.1 95.8 643.3 98.2 644.0 99.5 C644.7 100.8 645.0 101.6 645.7 102.4 C646.4 103.1 646.9 103.2 647.6 103.3 C648.3 103.4 648.8 104.3 649.3 103.0 C649.8 101.6 649.7 102.5 650.0 96.5 C650.3 90.5 650.4 79.8 650.7 73.1 C651.0 66.3 651.0 65.3 651.3 62.9 C651.6 60.4 651.8 62.7 652.1 60.7 C652.4 58.7 652.6 55.7 653.0 52.7 C653.4 49.7 653.7 47.5 654.1 45.6 C654.5 43.6 654.8 43.6 655.2 42.9 C655.6 42.3 655.8 42.2 656.3 42.2 C656.8 42.2 657.1 42.3 657.5 43.0 C657.9 43.7 657.9 43.6 658.5 45.7 C659.1 47.7 659.5 49.4 660.3 53.3 C661.1 57.1 661.6 58.5 662.6 65.0 C663.6 71.5 664.2 78.2 665.3 85.8 C666.4 93.4 667.1 98.4 668.0 103.1 C668.9 107.8 669.1 107.7 669.7 109.3 C670.3 111.0 670.3 111.4 671.0 111.4 C671.7 111.4 672.0 110.8 673.0 109.3 C674.0 107.8 675.0 105.8 676.2 103.8 C677.4 101.8 677.8 101.0 678.8 99.4 C679.9 97.9 680.6 95.9 681.5 95.9 C682.4 95.9 682.6 98.2 683.3 99.5 C684.0 100.8 684.3 101.5 685.0 102.3 C685.7 103.0 686.2 103.1 686.9 103.2 C687.6 103.4 688.1 104.4 688.6 102.9 C689.1 101.5 689.0 102.4 689.3 96.0 C689.6 89.6 689.7 78.2 690.0 71.1 C690.3 63.9 690.3 62.8 690.6 60.2 C690.9 57.6 691.1 60.1 691.4 57.9 C691.7 55.7 691.9 52.6 692.3 49.4 C692.7 46.1 693.0 43.9 693.4 41.8 C693.8 39.7 694.1 39.7 694.5 39.0 C694.9 38.3 695.1 38.2 695.6 38.2 C696.1 38.2 696.4 38.3 696.8 39.0 C697.2 39.7 697.2 39.6 697.8 41.6 C698.4 43.5 698.8 45.2 699.6 49.0 C700.4 52.7 700.9 54.1 701.9 60.4 C702.9 66.7 703.5 73.1 704.6 80.5 C705.7 87.9 706.4 92.8 707.3 97.3 C708.2 101.9 708.4 101.8 709.0 103.4 C709.6 105.0 709.6 105.4 710.3 105.4 C711.0 105.4 711.3 104.9 712.3 103.4 C713.3 101.9 714.3 100.2 715.5 98.0 C716.7 95.8 717.2 94.5 718.4 92.4 C719.6 90.4 720.4 88.1 721.3 87.9 C722.2 87.7 722.4 90.2 723.1 91.5 C723.8 92.8 724.1 93.6 724.8 94.3 C725.5 95.1 726.0 95.1 726.7 95.3 C727.4 95.4 727.9 96.3 728.4 94.9 C728.9 93.5 728.8 94.4 729.1 88.2 C729.4 82.1 729.5 71.0 729.8 64.0 C730.1 57.0 730.1 56.0 730.4 53.5 C730.7 50.9 730.9 53.3 731.2 51.2 C731.5 49.1 731.7 46.1 732.1 42.9 C732.5 39.8 732.8 37.6 733.2 35.6 C733.6 33.6 733.9 33.6 734.3 32.9 C734.7 32.2 734.9 32.1 735.4 32.1 C735.9 32.1 736.2 32.2 736.6 33.0 C737.0 33.7 737.0 33.6 737.6 35.7 C738.2 37.8 738.6 39.6 739.4 43.6 C740.2 47.6 740.7 49.1 741.7 55.8 C742.7 62.6 743.3 69.5 744.4 77.4 C745.5 85.3 746.2 90.5 747.1 95.4 C748.0 100.3 748.2 100.1 748.8 101.8 C749.4 103.6 749.4 104.0 750.1 104.0 C750.8 104.0 751.1 103.4 752.1 101.8 C753.1 100.3 754.7 97.2 755.3 96.1" stroke="#ff0000" stroke-width="4.0" fill="none" stroke-linejoin="round" stroke-linecap="butt" clip-path="url(#c1)"/>
<path d="M84.6 140.8 L87.2 141.0 L89.7 140.9 L92.3 141.1 L94.9 141.1 L97.4 140.6 L100.0 140.6 L102.6 141.3 L105.2 140.8 L107.7 140.8 L110.3 141.4 L112.9 141.0 L115.4 141.3 L118.0 141.0 L120.6 141.2 L123.2 140.9 L125.8 141.4 L128.4 141.7 L131.1 141.4 L133.7 141.7 L136.3 141.7 L138.9 141.3 L141.5 142.0 L144.1 141.9 L146.7 141.7 L149.3 141.6 L151.9 142.4 L154.6 142.1 L157.2 142.4 L159.8 142.7 L162.4 142.6 L165.0 142.9 L167.5 142.4 L170.1 142.8 L172.6 142.6 L175.1 143.0 L177.6 143.0 L180.2 142.3 L182.7 142.4 L185.2 142.5 L187.8 143.2 L190.3 142.8 L192.8 143.0 L195.4 142.7 L197.9 143.0 L200.4 142.9 L202.9 142.9 L205.5 143.1 L208.0 143.2 L210.6 143.5 L213.2 143.3 L215.9 143.6 L218.5 143.5 L221.1 143.7 L223.8 143.4 L226.4 143.0 L229.0 143.7 L231.6 143.8 L234.2 143.8 L236.9 143.5 L239.5 143.7 L242.1 143.2 L244.8 143.8 L247.4 143.6 L250.0 143.4 L252.5 143.1 L255.1 143.7 L257.6 143.7 L260.2 142.7 L262.7 143.3 L265.2 142.8 L267.8 142.4 L270.3 142.4 L272.8 142.7 L275.4 142.7 L277.9 141.8 L280.5 142.2 L283.0 141.6 L285.6 142.1 L288.2 141.6 L290.9 142.0 L293.5 142.0 L296.1 141.5 L298.8 141.8 L301.4 141.1 L304.0 140.8 L306.6 141.2 L309.2 140.6 L311.9 140.6 L314.5 140.7 L317.1 140.8 L319.8 140.3 L322.4 140.1 L325.0 140.7 L327.5 140.3 L330.1 140.9 L332.6 140.9 L335.1 140.4 L337.6 140.5 L340.2 140.6 L342.7 140.8 L345.2 140.8 L347.8 140.8 L350.3 140.9 L352.8 141.2 L355.4 140.8 L357.9 140.8 L360.4 141.1 L362.9 140.7 L365.5 140.8 L368.0 141.4 L370.6 141.1 L373.2 141.2 L375.9 140.8 L378.5 141.2 L381.1 141.4 L383.8 141.0 L386.4 141.6 L389.0 141.7 L391.6 141.2 L394.2 141.8 L396.9 141.7 L399.5 142.0 L402.1 141.8 L404.8 142.1 L407.4 142.2 L410.0 141.7 L412.5 141.7 L415.1 142.3 L417.6 142.6 L420.2 142.0 L422.7 142.2 L425.2 142.4 L427.8 142.2 L430.3 142.2 L432.8 142.2 L435.4 142.3 L437.9 142.5 L440.5 142.3 L443.0 142.4 L445.6 142.7 L448.2 142.0 L450.9 142.5 L453.5 142.6 L456.1 142.2 L458.8 142.1 L461.4 142.6 L464.0 142.1 L466.6 142.0 L469.2 142.2 L471.9 142.4 L474.5 141.8 L477.1 142.0 L479.8 142.0 L482.4 142.4 L485.0 142.0 L487.5 142.4 L490.1 141.7 L492.6 141.8 L495.1 142.0 L497.6 142.1 L500.2 141.7 L502.7 141.4 L505.2 141.2 L507.8 141.5 L510.3 141.2 L512.8 141.7 L515.4 141.6 L517.9 141.0 L520.4 141.0 L522.9 141.4 L525.5 141.2 L528.0 141.3 L530.6 140.8 L533.2 140.6 L535.9 140.7 L538.5 141.2 L541.1 140.7 L543.8 140.7 L546.4 140.8 L549.0 140.7 L551.6 140.7 L554.2 141.1 L556.9 140.4 L559.5 140.3 L562.1 141.1 L564.8 141.0 L567.4 141.1 L570.0 140.5 L572.5 141.1 L575.1 141.1 L577.6 140.6 L580.2 141.1 L582.7 141.3 L585.2 141.2 L587.8 141.2 L590.3 141.0 L592.8 141.1 L595.4 141.1 L597.9 141.1 L600.5 141.6 L603.0 141.4 L605.6 141.9 L608.2 141.3 L610.9 142.1 L613.5 142.0 L616.1 142.3 L618.8 142.3 L621.4 142.4 L624.0 142.1 L626.6 141.7 L629.2 142.4 L631.9 141.9 L634.5 142.1 L637.1 142.5 L639.8 142.4 L642.4 142.4 L645.0 142.9 L647.5 142.6 L650.1 142.4 L652.6 142.3 L655.1 142.8 L657.6 142.5 L660.2 142.8 L662.7 142.4 L665.2 142.2 L667.8 142.5 L670.3 142.8 L672.8 142.2 L675.4 142.8 L677.9 142.9 L680.4 142.8 L682.9 142.8 L685.5 142.1 L688.0 142.6 L690.6 142.8 L693.2 142.0 L695.9 142.2 L698.5 142.2 L701.1 142.4 L703.8 142.3 L706.4 142.3 L709.0 142.5 L711.6 141.8 L714.2 141.8 L716.9 141.9 L719.5 141.9 L722.1 141.8 L724.8 142.6 L727.4 142.4 L730.0 141.7 L732.6 142.1 L735.2 141.9 L737.9 141.9 L740.5 142.0" stroke="#007c00" stroke-width="4.0" fill="none" stroke-linejoin="round" stroke-linecap="butt" clip-path="url(#c2)"/>
<path d="M85.3 146.3 C87.6 146.5 90.5 148.1 93.9 147.0 C97.3 145.8 95.9 144.4 98.1 142.1 C100.4 139.7 100.3 139.6 102.4 138.2 C104.5 136.8 104.0 136.3 106.0 136.7 C108.0 137.2 107.7 138.1 109.9 139.9 C112.0 141.8 111.9 142.2 114.1 143.8 C116.4 145.3 115.3 144.9 118.4 145.7 C121.5 146.5 122.2 146.1 125.9 146.8 C129.6 147.4 129.7 148.2 132.3 148.0 C134.8 147.9 133.8 147.9 135.5 146.3 C137.2 144.7 137.0 143.9 138.7 142.1 C140.4 140.2 140.2 140.5 141.9 139.5 C143.6 138.5 143.4 138.2 145.1 138.4 C146.8 138.7 146.3 138.8 148.3 140.4 C150.3 141.9 150.0 142.5 152.5 144.2 C155.1 145.9 154.4 145.8 157.9 146.8 C161.3 147.7 161.6 147.0 165.3 147.6 C169.0 148.2 169.2 149.3 171.7 149.1 C174.3 148.9 173.2 148.6 174.9 147.0 C176.6 145.4 176.2 144.9 178.1 143.1 C180.0 141.4 180.1 141.2 182.0 140.4 C183.8 139.5 183.2 139.5 184.9 139.9 C186.7 140.4 186.2 140.5 188.4 142.1 C190.5 143.7 190.4 144.3 193.1 145.9 C195.7 147.5 195.0 147.4 198.4 148.0 C201.8 148.7 202.2 148.1 205.9 148.5 C209.6 148.9 209.7 149.8 212.3 149.5 C214.8 149.2 213.7 149.1 215.5 147.4 C217.2 145.7 216.9 145.0 218.7 143.1 C220.4 141.3 220.1 141.2 221.9 140.4 C223.6 139.5 223.2 139.4 225.1 139.9 C226.9 140.5 226.6 140.8 228.9 142.5 C231.2 144.2 230.9 144.7 233.6 146.3 C236.3 147.9 234.4 147.6 238.9 148.5 C243.5 149.3 246.7 150.1 250.7 149.5 C254.7 149.0 251.9 148.6 253.9 146.3 C255.9 144.1 255.6 143.1 258.1 141.0 C260.7 138.9 260.9 138.4 263.5 138.4 C266.0 138.4 265.5 139.2 267.7 141.0 C270.0 142.8 269.4 143.6 272.0 145.3 C274.6 147.0 273.9 146.8 277.3 147.4 C280.7 148.0 281.4 147.2 284.8 147.4 C288.2 147.6 287.9 148.6 290.1 148.0 C292.4 147.5 291.3 147.4 293.3 145.3 C295.3 143.1 295.0 142.2 297.6 139.9 C300.2 137.7 300.4 136.7 302.9 136.7 C305.5 136.7 304.6 137.9 307.2 139.9 C309.8 141.9 309.4 142.6 312.5 144.2 C315.7 145.8 315.2 145.4 318.9 145.9 C322.6 146.4 323.3 145.8 326.4 145.9 C329.5 146.0 328.7 147.4 330.7 146.3 C332.6 145.3 331.9 144.5 333.9 142.1 C335.8 139.7 335.8 139.0 338.1 137.4 C340.4 135.8 340.1 135.5 342.4 136.1 C344.7 136.7 344.1 137.2 346.7 139.5 C349.2 141.8 348.9 142.5 352.0 144.6 C355.1 146.7 354.7 146.5 358.4 147.4 C362.1 148.3 362.7 147.8 365.9 148.0 C369.0 148.3 368.1 149.2 370.1 148.5 C372.1 147.7 371.3 147.4 373.3 145.3 C375.3 143.1 375.3 142.0 377.6 140.4 C379.9 138.8 379.6 138.8 381.9 139.3 C384.1 139.7 383.6 140.2 386.1 142.1 C388.7 143.9 388.3 144.5 391.5 146.3 C394.6 148.2 393.3 148.0 397.8 148.9 C402.4 149.7 404.8 150.2 408.5 149.5 C412.2 148.8 409.7 148.4 411.7 146.3 C413.7 144.2 413.4 143.5 416.0 141.6 C418.6 139.8 418.8 139.3 421.3 139.5 C423.9 139.7 423.3 140.7 425.6 142.5 C427.9 144.3 427.0 144.7 429.9 146.3 C432.7 147.9 432.6 147.9 436.3 148.5 C440.0 149.0 440.6 148.2 443.7 148.5 C446.9 148.7 446.0 150.1 448.0 149.5 C450.0 149.0 449.2 148.4 451.2 146.3 C453.2 144.2 452.9 143.5 455.5 141.6 C458.0 139.8 458.2 139.4 460.8 139.5 C463.4 139.6 462.5 140.2 465.1 142.1 C467.6 143.9 467.3 144.6 470.4 146.3 C473.5 148.0 473.1 148.0 476.8 148.5 C480.5 148.9 481.3 148.0 484.3 148.0 C487.2 148.0 486.0 149.2 487.9 148.5 C489.8 147.7 489.2 147.5 491.3 145.3 C493.3 143.0 493.2 141.9 495.6 139.9 C498.0 137.9 497.9 137.7 500.3 137.8 C502.6 137.9 502.0 138.5 504.5 140.4 C507.1 142.2 507.0 143.0 509.9 144.6 C512.7 146.2 511.8 146.0 515.2 146.3 C518.6 146.7 519.4 145.9 522.7 145.9 C526.0 145.9 525.5 147.1 527.6 146.3 C529.7 145.6 528.4 145.5 530.5 143.1 C532.7 140.7 533.0 139.5 535.5 137.4 C537.9 135.3 537.4 135.0 539.7 135.2 C542.0 135.5 541.4 136.1 544.0 138.2 C546.5 140.3 546.2 141.1 549.3 143.1 C552.4 145.2 552.0 145.1 555.7 145.9 C559.4 146.8 560.3 145.9 563.2 146.3 C566.0 146.7 564.7 147.7 566.4 147.4 C568.1 147.1 567.6 147.3 569.6 145.3 C571.6 143.3 571.3 141.9 573.9 139.9 C576.4 137.9 576.6 137.5 579.2 137.8 C581.8 138.1 580.9 138.8 583.5 141.0 C586.0 143.2 585.7 143.9 588.8 145.9 C591.9 147.9 591.5 147.7 595.2 148.5 C598.9 149.3 599.6 148.6 602.7 148.9 C605.7 149.2 604.7 150.2 606.5 149.5 C608.3 148.8 607.6 148.6 609.5 146.3 C611.4 144.1 611.5 142.9 613.8 141.0 C616.0 139.1 615.7 139.0 618.0 139.3 C620.3 139.6 619.7 140.1 622.3 142.1 C624.9 144.1 624.8 144.9 627.8 146.8 C630.8 148.6 629.8 148.2 633.6 148.9 C637.4 149.6 638.7 149.4 642.1 149.5 C645.5 149.7 644.5 150.4 646.4 149.5 C648.3 148.7 647.3 148.6 649.2 146.3 C651.0 144.1 651.2 142.8 653.4 141.0 C655.7 139.2 655.4 139.1 657.7 139.5 C660.0 139.9 659.6 140.6 662.0 142.5 C664.4 144.4 663.7 145.1 666.7 146.8 C669.6 148.5 669.4 148.3 673.1 148.9 C676.8 149.5 677.1 148.9 680.5 149.1 C683.9 149.3 683.6 150.3 685.9 149.5 C688.1 148.8 687.1 148.8 689.1 146.3 C691.0 143.9 691.0 142.5 693.3 140.4 C695.6 138.2 695.3 138.1 697.6 138.2 C699.9 138.4 699.3 139.1 701.9 141.0 C704.4 142.9 704.1 143.7 707.2 145.3 C710.3 146.9 709.9 146.4 713.6 147.0 C717.3 147.5 717.9 147.1 721.0 147.4 C724.2 147.7 723.6 148.5 725.3 148.0 C727.0 147.6 725.9 147.9 727.4 145.8 C728.8 143.7 728.7 142.5 730.6 140.1 C732.6 137.7 732.7 138.0 734.7 136.8 C736.7 135.6 736.4 136.1 738.0 135.7 C739.6 135.3 740.0 135.4 740.7 135.3" stroke="#00ff00" stroke-width="4.0" fill="none" stroke-linejoin="round" stroke-linecap="butt" clip-path="url(#c2)"/>
<path d="M84.9 187.6 C85.2 187.8 85.2 186.7 86.2 188.3 C87.2 189.9 87.4 191.3 89.0 194.5 C90.6 197.6 91.3 200.6 93.1 201.8 C94.8 203.1 94.8 199.9 96.3 199.9 C97.8 199.9 98.1 200.8 99.6 201.8 C101.1 202.8 101.1 202.9 102.8 204.3 C104.6 205.6 105.2 207.9 106.9 207.5 C108.6 207.1 108.5 205.7 110.2 202.6 C111.9 199.6 112.5 197.7 114.3 194.5 C116.0 191.2 116.3 189.1 117.8 188.8 C119.4 188.4 119.1 192.3 120.8 192.8 C122.4 193.4 123.1 190.4 124.9 191.2 C126.6 192.0 126.4 192.3 128.1 196.1 C129.8 199.9 130.5 205.2 132.2 207.5 C133.9 209.8 134.1 204.9 135.5 205.9 C136.8 206.8 136.6 209.5 137.9 211.6 C139.2 213.7 139.7 212.6 141.2 214.9 C142.7 217.1 143.0 219.0 144.4 221.4 C145.8 223.7 145.9 225.2 147.2 225.0 C148.5 224.8 148.7 223.9 150.1 220.6 C151.6 217.3 152.1 213.9 153.4 210.8 C154.7 207.7 154.3 207.2 155.9 207.2 C157.4 207.2 157.8 212.2 159.9 210.8 C162.0 209.3 162.7 200.6 164.8 201.0 C166.9 201.4 167.6 209.4 168.9 212.4 C170.2 215.5 169.4 214.4 170.5 214.0 C171.7 213.7 172.1 209.6 173.8 210.8 C175.5 211.9 176.2 216.3 177.9 218.9 C179.6 221.6 179.4 219.2 181.1 222.2 C182.9 225.2 183.7 230.8 185.2 232.0 C186.7 233.1 186.3 231.7 187.7 227.1 C189.0 222.5 189.6 216.8 190.9 212.4 C192.3 208.0 191.5 208.5 193.4 208.3 C195.3 208.1 196.6 213.1 199.1 211.6 C201.6 210.1 202.1 202.2 204.0 201.8 C205.9 201.4 205.8 207.1 207.3 210.0 C208.9 212.8 209.1 213.9 210.6 214.0 C212.1 214.2 212.3 209.3 213.9 210.5 C215.4 211.6 215.6 216.2 217.1 218.9 C218.7 221.7 218.5 218.8 220.4 222.2 C222.3 225.6 223.6 232.9 225.3 233.6 C227.0 234.4 226.4 230.4 227.7 225.5 C229.1 220.5 229.7 216.4 231.0 212.4 C232.3 208.4 231.5 208.7 233.4 208.3 C235.3 208.0 236.9 212.1 239.2 210.8 C241.4 209.5 241.3 202.4 243.2 202.6 C245.1 202.8 245.8 208.9 247.3 211.6 C248.8 214.3 248.4 214.3 249.8 214.4 C251.1 214.5 251.5 211.0 253.0 212.1 C254.5 213.2 254.8 216.7 256.3 218.9 C257.8 221.2 257.8 219.8 259.5 221.9 C261.3 224.0 261.9 228.2 263.6 227.9 C265.3 227.6 265.2 225.9 266.9 220.6 C268.6 215.2 269.2 209.6 271.0 205.1 C272.7 200.5 272.3 201.4 274.2 201.0 C276.1 200.6 277.4 204.6 279.1 203.4 C280.8 202.3 280.5 198.7 281.6 196.1 C282.6 193.6 282.2 191.4 283.5 192.5 C284.9 193.7 285.8 198.1 287.3 201.0 C288.7 203.9 288.4 205.3 289.7 205.1 C291.1 204.9 291.5 200.2 293.0 200.2 C294.5 200.2 294.7 203.7 296.2 205.1 C297.8 206.4 297.6 204.5 299.5 205.9 C301.4 207.3 302.5 211.3 304.4 211.1 C306.3 210.9 306.0 209.0 307.7 205.1 C309.4 201.2 310.0 198.5 311.7 194.5 C313.5 190.5 313.3 189.1 315.0 187.9 C316.7 186.8 317.4 190.1 319.1 189.6 C320.7 189.0 320.5 185.1 322.0 185.5 C323.6 185.9 323.9 188.0 325.7 191.2 C327.5 194.4 328.1 196.9 329.8 199.4 C331.5 201.8 331.3 200.7 333.1 201.8 C334.8 203.0 335.2 201.6 337.1 204.3 C339.0 206.9 339.5 210.4 341.2 213.2 C342.9 216.1 342.9 216.3 344.5 216.5 C346.0 216.7 346.2 216.7 347.7 214.0 C349.3 211.4 349.7 207.7 351.0 205.1 C352.3 202.4 351.7 202.2 353.4 202.6 C355.2 203.0 356.3 207.5 358.3 206.7 C360.4 205.9 360.4 199.0 362.1 199.4 C363.8 199.7 364.1 205.0 365.7 208.3 C367.3 211.7 367.4 212.8 368.9 213.7 C370.5 214.6 370.5 210.9 372.2 212.1 C373.9 213.3 374.8 216.6 376.3 218.9 C377.8 221.3 377.2 219.0 378.7 222.2 C380.3 225.4 381.3 231.3 382.8 232.8 C384.3 234.3 383.9 233.1 385.3 228.7 C386.6 224.4 387.0 218.8 388.5 214.0 C390.0 209.3 389.9 208.8 391.8 208.3 C393.7 207.9 394.5 213.7 396.7 212.1 C398.8 210.5 399.2 201.6 401.1 201.3 C403.0 201.0 403.4 207.9 404.8 210.8 C406.3 213.7 405.9 213.8 407.3 213.7 C408.6 213.6 408.8 209.2 410.5 210.5 C412.3 211.7 412.9 216.2 414.6 218.9 C416.3 221.7 416.2 219.0 417.9 222.2 C419.6 225.4 420.4 231.3 422.0 232.8 C423.5 234.3 423.1 233.3 424.4 228.7 C425.7 224.2 426.1 218.1 427.7 213.2 C429.2 208.4 429.0 208.3 430.9 207.8 C432.9 207.4 433.9 212.7 436.2 211.1 C438.4 209.5 438.7 201.1 440.7 201.0 C442.7 200.9 443.3 207.8 444.8 210.8 C446.3 213.8 446.1 213.9 447.3 213.7 C448.6 213.5 448.6 208.7 450.1 210.0 C451.6 211.2 452.2 216.1 453.9 218.9 C455.5 221.8 455.2 218.8 457.1 222.2 C459.0 225.6 460.3 232.5 462.0 233.6 C463.7 234.8 463.1 231.7 464.5 227.1 C465.8 222.5 466.2 218.8 467.7 214.0 C469.3 209.3 469.3 208.0 471.0 206.7 C472.7 205.4 473.4 209.7 475.1 208.3 C476.8 207.0 477.2 203.5 478.3 201.0 C479.5 198.5 478.6 196.8 480.0 197.7 C481.3 198.7 482.3 202.8 484.0 205.1 C485.8 207.4 485.7 207.9 487.3 207.5 C488.9 207.1 489.4 203.1 490.9 203.4 C492.4 203.8 492.4 207.5 493.8 209.2 C495.3 210.8 495.4 208.7 497.1 210.5 C498.8 212.2 499.5 216.0 501.2 216.5 C502.9 216.9 502.9 215.8 504.4 212.4 C506.0 209.0 506.2 206.4 507.7 201.8 C509.2 197.2 509.4 195.1 511.0 192.8 C512.5 190.6 512.9 191.8 514.2 192.0 C515.6 192.2 515.3 195.0 516.7 193.7 C518.1 192.3 518.5 186.5 520.3 186.3 C522.0 186.1 522.2 190.0 524.0 192.8 C525.8 195.7 526.4 197.5 528.1 198.5 C529.8 199.6 529.6 197.0 531.4 197.4 C533.1 197.8 533.1 197.7 535.4 200.2 C537.7 202.6 538.9 207.5 541.1 207.8 C543.4 208.2 542.9 205.0 545.2 201.8 C547.5 198.6 548.5 194.7 550.9 194.1 C553.4 193.6 553.7 199.5 555.8 199.4 C557.9 199.2 558.2 193.5 559.9 193.7 C561.6 193.8 561.8 196.8 563.2 200.2 C564.5 203.6 564.5 206.1 565.7 208.3 C566.9 210.6 567.1 210.0 568.2 210.0 C569.2 210.0 569.0 207.2 570.1 208.3 C571.3 209.5 571.6 212.8 573.1 214.9 C574.5 217.0 574.4 214.3 576.3 217.3 C578.2 220.4 579.5 226.4 581.2 227.9 C582.9 229.4 582.3 227.4 583.7 223.8 C585.0 220.2 585.6 216.0 586.9 212.4 C588.2 208.8 587.7 208.7 589.4 208.3 C591.1 208.0 592.0 212.3 594.3 210.8 C596.5 209.3 597.2 201.8 599.2 201.8 C601.1 201.8 601.4 207.9 602.7 210.8 C604.1 213.6 603.5 214.0 604.9 214.0 C606.2 214.0 606.9 209.6 608.6 210.8 C610.3 211.9 610.6 216.4 612.2 218.9 C613.8 221.5 613.8 218.5 615.5 221.9 C617.2 225.3 618.0 232.0 619.5 233.6 C621.1 235.2 620.7 233.3 622.0 228.7 C623.3 224.2 623.7 218.8 625.3 214.0 C626.8 209.3 626.6 209.1 628.5 208.3 C630.4 207.6 631.2 212.4 633.4 210.8 C635.6 209.1 636.1 201.5 638.0 201.3 C639.9 201.1 640.0 207.0 641.6 210.0 C643.2 212.9 643.3 213.7 644.8 214.0 C646.4 214.4 646.6 210.5 648.1 211.6 C649.6 212.7 649.8 216.5 651.4 218.9 C652.9 221.4 652.8 218.6 654.6 222.2 C656.4 225.8 657.5 232.5 659.0 234.4 C660.5 236.3 659.9 234.9 661.1 230.4 C662.4 225.8 662.9 220.0 664.4 214.9 C665.9 209.7 665.8 209.1 667.7 208.3 C669.6 207.6 670.4 212.9 672.6 211.6 C674.8 210.3 675.2 202.8 677.1 202.6 C679.1 202.4 679.2 207.9 680.9 210.8 C682.5 213.6 682.6 215.1 684.1 214.9 C685.7 214.7 685.9 210.0 687.4 210.0 C688.9 210.0 689.1 213.0 690.7 214.9 C692.2 216.8 692.3 215.8 693.9 218.1 C695.6 220.4 696.1 224.1 697.7 224.6 C699.2 225.2 699.0 223.8 700.4 220.6 C701.9 217.3 702.0 215.7 703.7 210.8 C705.4 205.8 706.1 202.1 707.8 199.4 C709.4 196.6 709.4 198.7 710.7 199.0 C712.1 199.4 712.1 202.6 713.5 201.0 C714.9 199.4 715.4 193.5 716.8 192.0 C718.1 190.5 717.7 191.8 719.2 194.5 C720.7 197.1 721.6 202.1 723.3 203.4 C725.0 204.8 725.0 200.4 726.5 200.2 C728.1 200.0 728.1 201.5 729.8 202.6 C731.5 203.8 732.0 203.5 733.9 205.1 C735.8 206.7 736.4 208.7 738.0 209.5 C739.5 210.3 739.8 208.7 740.4 208.5" stroke="#0000ff" stroke-width="4.0" fill="none" stroke-linejoin="round" stroke-linecap="butt" clip-path="url(#c2)"/>
<path d="M84.6 196.0 L87.1 196.2 L89.6 196.2 L92.1 196.0 L94.6 195.9 L97.1 196.0 L99.6 195.8 L102.1 196.2 L104.6 196.3 L107.1 196.0 L109.6 195.8 L112.2 195.9 L114.7 196.0 L117.2 196.2 L119.7 196.3 L122.2 196.0 L124.7 196.4 L127.2 196.2 L129.7 196.1 L132.2 196.0 L134.7 196.1 L137.2 196.3 L139.7 196.1 L142.2 196.3 L144.7 196.1 L147.2 195.9 L149.7 196.2 L152.2 196.3 L154.7 195.8 L157.2 196.1 L159.7 196.1 L162.2 196.4 L164.7 196.5 L167.3 196.0 L169.8 196.5 L172.3 196.4 L174.8 196.0 L177.3 196.1 L179.8 195.8 L182.3 196.4 L184.8 196.3 L187.3 196.5 L189.8 196.4 L192.3 196.3 L194.8 196.3 L197.3 196.2 L199.8 195.8 L202.3 196.2 L204.8 195.8 L207.3 195.9 L209.8 196.4 L212.3 195.8 L214.8 195.8 L217.3 195.8 L219.9 196.5 L222.4 195.9 L224.9 195.8 L227.4 196.4 L229.9 195.9 L232.4 196.4 L234.9 196.3 L237.4 196.4 L239.9 196.5 L242.4 196.2 L244.9 196.4 L247.4 195.8 L249.9 196.4 L252.4 196.2 L254.9 196.4 L257.4 195.9 L259.9 196.4 L262.4 196.5 L264.9 195.8 L267.4 196.0 L269.9 196.2 L272.4 196.4 L275.0 196.0 L277.5 195.9 L280.0 196.0 L282.5 196.3 L285.0 196.4 L287.5 196.1 L290.0 196.1 L292.5 196.1 L295.0 196.1 L297.5 196.1 L300.0 195.9 L302.5 196.2 L305.0 196.6 L307.5 196.1 L310.0 196.4 L312.5 195.9 L315.0 196.3 L317.5 196.4 L320.0 196.3 L322.5 196.2 L325.0 196.2 L327.5 196.3 L330.0 196.5 L332.5 195.9 L335.0 195.8 L337.5 196.4 L340.0 196.5 L342.5 196.2 L345.0 196.1 L347.5 196.3 L350.0 195.9 L352.5 196.0 L355.0 195.9 L357.5 196.2 L360.0 196.0 L362.5 195.9 L365.0 196.3 L367.5 196.5 L370.0 196.0 L372.5 196.3 L375.0 196.1 L377.5 196.4 L380.0 196.2 L382.5 195.9 L385.0 195.9 L387.5 195.7 L390.0 196.1 L392.5 196.0 L395.0 195.8 L397.5 196.0 L400.0 196.0 L402.5 196.3 L405.0 195.8 L407.5 196.5 L410.0 196.1 L412.5 196.2 L415.0 196.1 L417.5 196.4 L420.0 196.3 L422.5 196.1 L425.0 196.1 L427.5 196.2 L430.0 196.4 L432.5 196.0 L435.0 196.3 L437.5 196.4 L440.0 196.0 L442.5 195.8 L445.0 195.8 L447.5 196.2 L450.0 196.2 L452.5 196.4 L455.0 196.3 L457.5 195.8 L460.0 195.8 L462.5 195.8 L465.0 195.8 L467.5 196.2 L470.0 196.3 L472.5 196.3 L475.0 195.8 L477.5 196.3 L480.0 195.9 L482.5 196.0 L485.0 196.2 L487.5 195.7 L490.0 195.7 L492.5 196.3 L495.0 195.8 L497.5 195.9 L500.0 196.1 L502.5 196.1 L505.0 195.6 L507.5 195.9 L510.0 196.0 L512.5 196.0 L515.0 195.8 L517.5 196.1 L520.0 196.4 L522.5 195.9 L525.1 196.0 L527.6 195.7 L530.1 195.8 L532.6 196.1 L535.1 195.7 L537.6 196.3 L540.1 196.3 L542.6 195.7 L545.1 196.4 L547.6 195.9 L550.1 196.2 L552.6 196.2 L555.1 195.9 L557.6 196.2 L560.1 196.1 L562.6 196.3 L565.1 195.8 L567.6 196.2 L570.1 196.4 L572.7 196.2 L575.2 196.1 L577.7 195.7 L580.2 196.0 L582.7 195.9 L585.2 196.2 L587.7 196.2 L590.2 196.1 L592.7 195.8 L595.2 196.2 L597.7 196.1 L600.2 195.8 L602.7 196.4 L605.2 196.2 L607.7 195.7 L610.2 196.4 L612.7 195.8 L615.2 195.9 L617.7 196.2 L620.2 196.1 L622.8 196.1 L625.3 196.2 L627.8 196.0 L630.3 195.9 L632.8 195.8 L635.3 195.7 L637.8 196.2 L640.3 196.3 L642.8 196.1 L645.3 196.3 L647.8 195.9 L650.3 195.9 L652.8 196.0 L655.3 196.4 L657.8 195.7 L660.3 196.1 L662.8 195.9 L665.3 196.3 L667.8 196.0 L670.4 195.9 L672.9 196.0 L675.4 196.1 L677.9 196.3 L680.4 196.0 L682.9 196.4 L685.4 195.8 L687.9 195.9 L690.4 195.8 L692.9 195.8 L695.4 196.3 L697.9 196.3 L700.4 195.8 L702.9 195.8 L705.4 196.0 L707.9 196.3 L710.4 196.3 L712.9 196.3 L715.4 196.2 L718.0 195.8 L720.5 196.0 L723.0 195.8 L725.5 196.1 L728.0 196.1 L730.5 195.9 L733.0 195.9 L735.5 196.3 L738.0 195.7 L740.5 196.1" stroke="#191970" stroke-width="3.9" fill="none" stroke-linejoin="round" stroke-linecap="butt" clip-path="url(#c2)"/>
<path d="M85.4 461.5 L87.1 461.8 L88.8 461.5 L90.5 461.2 L92.2 460.7 L93.9 460.2 L95.6 460.5 L97.3 460.5 L98.8 460.5 L100.3 459.7 L101.9 459.6 L103.4 460.2 L105.0 459.8 L106.5 459.5 L108.0 459.6 L109.8 459.1 L111.5 459.6 L113.2 459.8 L114.9 459.8 L116.7 459.5 L118.3 459.8 L119.9 460.6 L121.5 461.1 L123.1 460.8 L124.8 461.0 L126.4 461.4 L128.0 462.3 L129.6 462.3 L131.2 462.4 L132.8 463.0 L134.5 462.7 L136.1 462.5 L137.7 463.0 L139.3 462.4 L140.9 462.8 L142.6 463.2 L144.2 462.6 L145.8 462.4 L147.4 462.7 L149.0 462.4 L150.6 462.8 L152.3 461.9 L153.9 462.4 L155.5 461.9 L157.0 462.2 L158.5 461.9 L160.0 462.1 L161.5 461.8 L163.0 461.7 L164.6 461.9 L166.1 462.2 L167.6 461.8 L169.1 461.7 L170.6 461.9 L172.1 461.1 L173.7 460.9 L175.2 460.6 L176.8 460.2 L178.3 459.7 L179.8 459.0 L181.4 458.3 L182.9 458.5 L184.5 459.0 L186.0 459.1 L187.5 459.7 L189.1 459.6 L190.6 460.3 L192.2 460.3 L193.8 460.5 L195.4 460.8 L197.0 460.7 L198.6 460.8 L200.3 460.9 L201.9 460.8 L203.5 461.6 L205.1 461.5 L206.8 460.9 L208.6 461.4 L210.3 460.8 L212.0 460.6 L213.7 460.2 L215.5 459.5 L217.2 459.8 L218.9 458.6 L220.6 458.4 L222.4 458.5 L224.0 457.9 L225.6 458.4 L227.2 458.6 L228.8 458.5 L230.5 459.3 L232.1 459.0 L233.7 458.8 L235.3 459.4 L237.1 459.4 L238.9 460.4 L240.7 461.0 L242.2 461.3 L243.7 460.6 L245.2 461.2 L246.8 461.0 L248.3 461.2 L249.9 461.2 L251.4 461.3 L252.9 461.2 L254.5 461.9 L256.0 461.6 L257.6 462.6 L259.1 462.0 L260.6 463.0 L262.2 462.6 L263.7 462.7 L265.3 463.3 L267.0 463.2 L268.6 463.5 L270.2 463.4 L271.8 463.6 L273.4 463.2 L275.1 463.8 L276.7 463.7 L278.3 463.9 L279.9 462.9 L281.5 462.8 L283.1 463.2 L284.8 463.3 L286.4 462.7 L288.0 462.8 L289.6 462.5 L291.2 462.2 L292.8 462.2 L294.5 462.2 L296.1 461.5 L297.7 461.7 L299.3 462.0 L300.9 461.4 L302.6 461.5 L304.1 461.1 L305.6 461.0 L307.2 461.1 L308.7 461.0 L310.3 461.0 L311.8 460.4 L313.3 460.0 L314.9 459.9 L316.4 459.4 L318.0 459.4 L319.5 459.5 L321.0 459.3 L322.6 458.7 L324.1 458.4 L325.8 458.5 L327.6 458.7 L329.3 459.1 L331.0 459.0 L332.8 459.7 L334.5 460.0 L336.2 460.3 L337.9 460.9 L339.7 461.0 L341.4 462.2 L343.0 462.5 L344.6 462.4 L346.2 463.0 L347.9 462.8 L349.5 463.1 L351.1 463.3 L352.7 463.6 L354.3 464.2 L355.8 464.4 L357.3 464.5 L358.9 464.1 L360.4 464.8 L361.9 464.6 L363.4 464.7 L364.9 464.9 L366.4 464.9 L367.9 464.8 L369.4 465.1 L371.0 465.4 L372.5 465.6 L374.0 465.8 L375.6 465.2 L377.1 465.9 L378.7 465.9 L380.2 465.9 L381.7 466.3 L383.3 465.6 L384.8 466.2 L386.4 466.4 L387.9 465.8 L389.5 466.3 L391.0 466.7 L392.5 466.2 L394.1 466.7 L395.6 466.8 L397.2 466.5 L398.7 466.3 L400.2 466.4 L401.8 467.0 L403.2 466.2 L404.8 466.2 L406.3 466.3 L407.8 466.8 L409.3 466.2 L410.9 466.0 L412.4 466.9 L413.9 466.4 L415.5 466.5 L417.0 467.0 L418.5 466.4 L420.0 466.3 L421.6 467.1 L423.1 466.5 L424.6 466.4 L426.1 467.0 L427.6 466.4 L429.1 467.0 L430.6 466.4 L432.1 466.4 L433.6 466.3 L435.2 466.6 L436.7 466.6 L438.2 466.4 L439.7 466.5 L441.2 466.3 L442.7 466.7 L444.2 466.8 L445.7 466.6 L447.2 466.6 L448.7 465.9 L450.3 466.1 L451.8 466.0 L453.3 466.0 L454.9 466.7 L456.4 466.6 L457.9 466.7 L459.5 466.3 L461.0 465.9 L462.6 466.2 L464.1 465.9 L465.6 466.6 L467.2 466.1 L468.7 466.1 L470.3 466.7 L471.8 466.0 L473.3 466.7 L475.1 465.6 L476.8 465.4 L478.5 464.4 L480.2 464.6 L482.0 463.6 L483.6 463.4 L485.2 463.5 L486.8 463.3 L488.4 462.8 L490.1 462.5 L491.7 462.8 L493.3 462.1 L494.9 462.7 L496.5 462.1 L498.0 461.8 L499.6 461.8 L501.2 461.5 L502.8 461.5 L504.3 461.6 L505.9 461.4 L507.5 461.2 L509.0 461.0 L510.6 461.0 L512.2 461.1 L513.7 460.7 L515.2 460.9 L516.7 460.5 L518.2 460.1 L519.7 460.1 L521.2 460.6 L522.7 460.1 L524.2 459.9 L525.8 459.9 L527.3 460.1 L528.9 459.2 L530.5 458.6 L532.1 458.1 L533.7 457.2 L535.4 458.1 L537.0 458.5 L538.6 458.9 L540.2 459.3 L541.9 459.7 L543.7 460.2 L545.4 460.0 L547.1 461.0 L548.8 460.5 L550.4 461.6 L551.9 461.4 L553.5 462.4 L555.0 462.3 L556.5 462.5 L558.1 463.3 L559.6 464.0 L562.2 464.2 L563.7 464.4 L565.2 464.7 L566.8 464.1 L568.3 464.5 L569.9 464.5 L571.4 465.2 L572.9 465.2 L574.5 465.6 L576.1 465.7 L577.6 466.1 L579.2 465.9 L580.8 466.2 L582.4 466.1 L583.9 465.8 L585.5 466.7 L587.1 466.1 L588.6 466.2 L590.2 467.0 L591.8 466.6 L593.4 467.0 L595.1 466.5 L596.7 466.7 L598.3 467.2 L599.9 466.6 L601.5 467.1 L603.1 467.5 L604.8 466.9 L606.4 467.4 L608.0 467.5 L609.6 467.5 L611.2 467.6 L612.7 467.4 L614.2 466.8 L615.8 466.9 L617.3 467.2 L618.9 467.5 L620.4 466.8 L621.9 467.1 L623.5 466.6 L625.0 467.2 L626.6 466.8 L628.1 466.8 L629.6 466.9 L631.2 466.4 L632.8 467.0 L634.4 467.1 L636.0 467.2 L637.7 466.7 L639.3 466.7 L640.9 466.7 L642.5 467.4 L644.1 467.1 L645.7 467.1 L647.4 467.3 L649.0 467.5 L650.6 467.2 L652.1 467.2 L653.7 467.6 L655.2 467.6 L656.8 467.2 L658.3 467.0 L659.8 467.7 L661.4 467.6 L662.9 467.4 L664.5 467.3 L666.0 467.8 L667.5 467.3 L669.1 467.1 L670.6 467.0 L672.2 467.2 L673.7 467.4 L675.3 467.0 L676.9 467.5 L678.4 467.1 L680.0 466.8 L681.6 466.9 L683.1 466.8 L684.7 466.7 L686.3 466.5 L687.9 466.4 L689.4 466.3 L691.0 466.4 L692.6 465.6 L694.1 465.9 L695.7 465.3 L697.3 465.6 L698.8 464.7 L700.4 464.9 L702.0 464.7 L703.5 464.7 L705.1 464.1 L706.7 463.9 L708.3 463.5 L709.9 463.6 L711.5 463.4 L713.1 462.6 L714.8 462.5 L716.4 462.2 L718.0 462.6 L719.6 461.9 L721.3 461.9 L722.9 461.5 L724.5 461.7 L726.1 461.7 L727.6 461.4 L729.2 460.7 L730.7 461.0 L732.3 460.9 L733.8 460.3 L735.4 460.9 L736.9 460.3 L738.5 460.2 L740.0 460.2" stroke="#ffa500" stroke-width="4.0" fill="none" stroke-linejoin="round" stroke-linecap="butt" clip-path="url(#c3)"/>
<path d="M85.4 419.7 L86.9 419.8 L88.4 419.6 L89.9 419.5 L91.4 419.6 L92.9 420.5 L94.9 418.0 L96.8 416.8 L98.7 417.8 L100.5 418.8 L102.6 417.5 L104.8 415.9 L107.0 414.4 L109.1 412.5 L111.3 412.5 L113.4 411.3 L115.1 410.6 L116.7 410.3 L118.8 415.1 L121.0 426.1 L122.6 426.9 L124.2 427.2 L126.4 431.8 L128.5 435.5 L130.7 439.5 L132.8 444.2 L135.0 443.7 L137.2 445.2 L139.3 446.3 L141.5 449.2 L143.0 448.5 L144.5 448.1 L146.0 447.1 L147.5 446.7 L149.0 447.2 L150.8 446.8 L152.6 447.2 L154.4 448.3 L156.0 448.2 L157.7 447.1 L159.3 448.0 L160.9 447.3 L162.7 447.9 L164.5 448.3 L166.3 449.3 L168.0 450.3 L169.7 449.7 L171.5 449.8 L173.2 450.1 L174.9 450.3 L176.7 451.6 L178.5 453.3 L180.3 453.3 L182.5 451.0 L184.6 449.6 L186.2 447.5 L187.9 445.3 L190.0 442.8 L192.2 441.3 L194.0 441.3 L195.8 440.0 L197.6 439.6 L199.4 437.4 L201.2 435.4 L203.0 434.2 L205.1 435.7 L207.3 436.9 L209.4 435.1 L211.6 433.5 L213.7 437.2 L215.4 440.9 L217.0 444.8 L218.8 447.3 L220.6 448.7 L222.4 451.3 L224.0 452.5 L225.6 453.2 L227.2 453.2 L228.8 455.0 L230.4 455.0 L231.9 454.5 L233.5 454.8 L235.0 454.9 L236.5 455.0 L238.1 456.3 L239.6 455.8 L242.2 456.4 L243.8 455.5 L245.4 455.5 L247.0 456.6 L248.6 456.6 L250.2 456.9 L251.9 456.6 L253.5 456.5 L255.1 456.9 L256.8 455.8 L258.6 456.0 L260.3 455.6 L262.0 454.9 L263.7 455.2 L265.3 454.7 L267.0 454.7 L268.6 454.4 L270.2 454.2 L271.8 454.1 L273.4 454.2 L275.1 454.5 L276.7 454.3 L278.3 454.0 L279.9 453.8 L281.5 452.9 L283.1 453.6 L284.8 452.6 L286.4 452.2 L288.0 452.5 L289.6 452.5 L291.2 451.8 L292.8 451.9 L294.5 451.2 L296.1 451.7 L297.7 450.9 L299.3 450.6 L300.9 450.4 L302.6 450.6 L304.1 450.5 L305.6 449.8 L307.2 449.6 L308.7 449.6 L310.3 448.8 L311.8 449.1 L313.3 449.4 L314.9 449.4 L316.4 448.5 L318.0 449.5 L319.5 448.9 L321.0 449.6 L322.6 448.9 L324.1 448.7 L325.8 449.2 L327.6 449.7 L329.3 449.2 L331.0 449.8 L332.8 449.7 L334.4 450.0 L336.0 450.6 L337.6 451.6 L339.2 452.1 L340.9 452.5 L342.7 453.3 L344.4 454.0 L346.1 454.1 L347.9 454.0 L349.5 454.3 L351.1 454.6 L352.7 455.1 L354.3 454.7 L355.9 454.9 L357.6 455.3 L359.2 455.5 L360.8 455.4 L362.4 456.2 L364.0 456.9 L365.6 456.6 L367.3 457.1 L368.9 457.4 L370.5 457.6 L372.1 457.9 L373.7 457.6 L375.3 458.0 L376.9 457.4 L378.4 458.4 L380.0 457.9 L381.6 458.1 L383.1 458.7 L384.7 458.1 L386.3 458.1 L387.9 458.9 L389.4 458.8 L391.0 458.2 L392.5 458.2 L394.1 458.6 L395.6 458.1 L397.2 459.1 L398.7 458.4 L400.2 458.5 L401.8 458.6 L403.2 458.7 L404.8 458.6 L406.4 458.7 L407.9 458.7 L409.5 458.4 L411.0 457.9 L412.6 458.9 L414.1 458.5 L415.7 457.7 L417.3 458.0 L418.9 458.3 L420.5 458.5 L422.1 457.3 L423.7 457.2 L425.3 457.7 L427.0 457.6 L428.6 458.1 L430.2 457.9 L431.8 457.2 L433.4 457.3 L435.1 457.4 L436.7 457.7 L438.2 456.8 L439.7 457.0 L441.2 456.5 L442.7 457.1 L444.2 456.3 L445.7 457.4 L447.2 456.8 L448.7 456.8 L450.3 456.1 L451.8 456.3 L453.9 457.3 L456.1 458.5 L457.7 457.9 L459.3 457.4 L460.9 458.1 L462.6 457.5 L464.2 457.2 L465.8 456.6 L467.4 456.5 L469.0 457.1 L470.6 455.2 L472.3 454.8 L473.9 454.0 L475.5 452.7 L477.0 453.2 L478.5 453.3 L480.0 453.1 L481.5 452.9 L483.0 452.2 L484.6 452.0 L486.1 452.4 L487.6 452.2 L489.1 452.0 L490.6 452.7 L492.2 451.8 L493.8 452.4 L495.4 452.4 L497.1 451.3 L498.7 452.1 L500.3 451.3 L501.9 451.0 L503.5 450.8 L505.2 450.5 L506.8 450.9 L508.4 450.6 L510.0 451.1 L511.6 450.9 L513.2 449.8 L514.9 450.1 L516.5 450.0 L518.1 449.6 L519.7 449.5 L521.3 449.4 L523.0 449.8 L524.6 449.2 L526.2 448.8 L527.8 448.8 L529.4 449.0 L531.0 449.2 L532.7 448.8 L534.3 449.4 L535.9 448.9 L537.5 449.5 L539.1 449.5 L540.7 449.0 L542.4 449.8 L544.1 449.9 L545.8 450.6 L547.5 451.3 L549.3 451.9 L551.0 452.2 L552.6 452.2 L554.2 453.5 L555.8 454.0 L557.5 454.0 L559.1 454.5 L560.7 454.6 L562.2 455.8 L563.7 455.6 L565.2 455.1 L566.8 455.9 L568.3 456.2 L569.9 455.6 L571.4 456.4 L572.9 455.9 L574.5 455.7 L576.1 456.4 L577.6 456.1 L579.2 456.7 L580.8 456.6 L582.4 456.2 L583.9 456.8 L585.5 457.3 L587.1 457.0 L588.6 457.2 L590.2 457.7 L591.8 457.2 L593.4 457.4 L595.1 457.5 L596.7 457.9 L598.3 457.2 L599.9 457.2 L601.5 458.0 L603.1 457.9 L604.8 457.6 L606.4 458.4 L608.0 458.5 L609.6 458.1 L611.2 458.7 L612.7 458.5 L614.2 458.4 L615.8 457.8 L617.3 457.5 L618.9 458.3 L620.4 458.4 L621.9 457.9 L623.5 458.1 L625.0 458.2 L626.6 457.8 L628.1 458.3 L629.6 458.2 L631.2 457.9 L632.8 457.6 L634.4 458.1 L636.0 457.9 L637.7 458.4 L639.3 457.7 L640.9 458.0 L642.5 457.7 L644.1 458.0 L645.7 458.2 L647.4 457.6 L649.0 457.6 L650.6 458.1 L652.1 457.7 L653.7 458.0 L655.2 457.5 L656.8 457.4 L658.3 457.8 L659.8 458.2 L661.4 458.1 L662.9 457.6 L664.5 457.4 L666.0 456.9 L667.5 457.1 L669.1 457.1 L670.6 457.8 L672.2 456.8 L673.7 457.6 L675.3 456.9 L676.9 456.7 L678.4 456.3 L680.0 457.0 L681.6 455.9 L683.1 456.2 L684.7 456.0 L686.3 455.4 L687.9 455.3 L689.4 456.1 L691.0 455.6 L692.6 455.3 L694.1 455.3 L695.7 454.1 L697.3 454.6 L698.8 454.4 L700.4 453.5 L702.0 453.6 L703.5 453.9 L705.1 452.9 L706.7 453.2 L708.3 452.2 L709.9 452.6 L711.5 451.8 L713.1 451.8 L714.8 451.4 L716.4 451.7 L718.0 451.3 L719.6 450.8 L721.3 451.0 L722.9 450.7 L724.5 451.1 L726.1 450.3 L727.6 450.5 L729.2 450.3 L730.7 449.9 L732.3 449.3 L733.8 449.3 L735.4 449.7 L736.9 449.0 L738.5 449.5 L740.0 449.0" stroke="#800080" stroke-width="4.0" fill="none" stroke-linejoin="round" stroke-linecap="butt" clip-path="url(#c3)"/>
<path d="M84.6 362.0 C84.9 365.0 85.7 373.4 86.5 380.0 C87.3 386.6 88.7 394.4 89.7 401.6 C90.7 408.8 91.7 416.6 92.5 423.1 C93.3 429.6 93.7 437.0 94.7 440.4 C95.7 443.8 97.3 440.7 98.3 443.6 C99.3 446.5 99.6 453.2 100.5 457.7 C101.4 462.2 102.5 466.7 103.7 470.6 C105.0 474.6 106.6 479.1 108.0 481.4 C109.4 483.7 110.5 484.3 111.9 484.6 C113.4 484.9 115.4 483.8 116.7 483.1 C118.0 482.4 118.8 482.4 119.9 480.3 C121.0 478.2 121.7 475.8 123.1 470.6 C124.5 465.4 126.7 455.8 128.5 449.0 C130.3 442.2 131.9 436.1 133.9 429.6 C135.9 423.1 138.2 416.2 140.4 410.2 C142.6 404.2 144.8 398.9 146.9 393.5 C149.1 388.1 151.2 383.0 153.3 378.0 C155.5 373.0 157.4 368.7 159.8 363.4 C162.2 358.1 165.4 351.1 168.0 346.3 C170.6 341.5 173.1 337.9 175.6 334.4 C178.1 330.8 180.0 328.4 183.1 325.0 C186.2 321.6 189.9 317.9 193.9 313.9 C197.9 309.9 203.2 304.4 206.8 301.0 C210.4 297.6 212.2 295.7 215.5 293.4 C218.8 291.1 222.7 289.0 226.3 287.0 C229.9 285.0 233.4 283.3 237.0 281.6 C240.6 279.9 244.6 278.2 247.8 276.8 C251.0 275.4 252.8 273.9 256.4 272.9 C260.0 271.9 265.3 271.3 269.4 270.8 C273.5 270.3 278.9 269.4 281.2 269.7 C283.5 269.9 282.4 269.4 283.1 272.3 C283.8 275.2 284.4 280.9 285.3 287.4 C286.2 293.9 287.4 303.0 288.5 311.1 C289.6 319.2 290.5 331.5 291.8 335.9 C293.1 340.3 295.0 334.7 296.1 337.4 C297.2 340.1 297.3 346.4 298.2 352.1 C299.1 357.8 300.6 366.9 301.5 371.5 C302.4 376.1 302.7 375.0 303.6 380.0 C304.5 385.0 305.6 393.7 306.9 401.6 C308.2 409.5 309.8 419.2 311.2 427.5 C312.6 435.8 314.1 444.6 315.5 451.2 C316.9 457.8 318.6 463.8 319.8 467.4 C321.1 471.0 321.7 471.4 323.0 472.8 C324.3 474.2 326.1 475.3 327.4 476.0 C328.7 476.7 329.7 477.5 330.6 477.1 C331.5 476.7 331.9 477.0 332.8 473.8 C333.7 470.6 334.6 463.6 336.0 457.7 C337.4 451.8 339.4 444.7 341.4 438.2 C343.4 431.7 345.7 425.2 347.9 418.8 C350.1 412.4 352.3 405.9 354.5 400.0 C356.7 394.1 359.0 388.8 361.3 383.1 C363.6 377.5 365.5 371.9 368.1 366.1 C370.7 360.3 374.1 353.6 377.1 348.1 C380.1 342.7 383.1 337.7 386.1 333.4 C389.1 329.1 391.8 326.1 395.2 322.1 C398.6 318.2 402.7 313.5 406.5 309.7 C410.3 305.9 414.1 302.5 417.8 299.5 C421.6 296.5 425.2 294.1 429.0 291.6 C432.8 289.1 436.5 286.6 440.3 284.4 C444.1 282.2 447.8 280.2 451.6 278.5 C455.4 276.8 459.1 275.3 462.9 274.0 C466.7 272.7 470.4 271.6 474.2 270.8 C478.0 270.0 481.7 269.6 485.5 269.0 C489.3 268.4 494.1 267.8 496.8 267.5 C499.5 267.2 500.6 266.9 501.8 267.2 C503.0 267.5 503.4 266.2 504.0 269.5 C504.6 272.8 504.9 281.2 505.4 287.1 C505.9 293.1 506.2 300.3 507.0 305.2 C507.8 310.1 509.0 311.6 509.9 316.5 C510.8 321.4 511.6 327.0 512.6 334.5 C513.6 342.0 514.9 352.9 516.0 361.6 C517.1 370.3 518.2 379.8 519.4 386.5 C520.6 393.2 521.9 395.5 523.0 401.6 C524.1 407.7 525.3 417.2 526.2 423.1 C527.1 429.0 527.4 433.6 528.3 437.2 C529.2 440.8 530.5 441.3 531.6 444.7 C532.7 448.1 533.7 454.2 534.8 457.7 C535.9 461.2 536.7 464.4 538.0 465.8 C539.3 467.2 541.1 466.6 542.4 466.3 C543.7 466.0 544.5 466.3 545.6 464.1 C546.7 461.9 547.5 458.0 548.8 453.3 C550.0 448.6 551.5 441.9 553.1 436.1 C554.7 430.3 556.4 424.7 558.5 418.7 C560.6 412.7 563.5 405.6 565.6 400.0 C567.7 394.4 569.2 390.6 571.3 385.3 C573.4 380.0 575.5 374.2 578.1 368.4 C580.7 362.6 584.1 355.8 587.1 350.3 C590.1 344.9 593.1 340.2 596.1 335.7 C599.1 331.2 601.8 327.3 605.2 323.2 C608.6 319.1 612.7 314.6 616.5 310.8 C620.3 307.1 624.0 303.8 627.8 300.7 C631.5 297.6 635.2 294.8 639.0 292.1 C642.8 289.5 646.5 287.0 650.3 284.8 C654.1 282.6 657.8 281.0 661.6 279.2 C665.4 277.4 669.1 275.4 672.9 274.0 C676.7 272.6 680.4 271.6 684.2 270.8 C688.0 270.0 692.1 269.4 695.5 269.0 C698.9 268.6 702.2 268.6 704.5 268.6 C706.8 268.6 708.4 268.4 709.5 269.0 C710.6 269.6 710.4 269.0 710.9 272.4 C711.4 275.8 711.8 283.9 712.4 289.4 C713.0 294.9 713.8 299.9 714.7 305.2 C715.7 310.5 717.0 315.7 718.1 321.0 C719.2 326.3 720.6 331.2 721.5 336.8 C722.4 342.4 723.0 349.2 723.7 354.9 C724.5 360.5 725.4 367.5 726.0 370.7 C726.6 373.9 726.9 373.4 727.6 374.0 C728.4 374.6 729.8 372.7 730.5 374.0 C731.2 375.3 731.4 378.0 732.1 382.0 C732.8 386.0 733.5 391.1 734.6 398.0 C735.7 404.9 737.5 417.8 738.5 423.1 C739.5 428.4 740.2 428.9 740.5 430.0" stroke="#808080" stroke-width="4.0" fill="none" stroke-linejoin="round" stroke-linecap="butt" clip-path="url(#c3)"/>
<path d="M84.6 381.0 C87.1 380.6 92.6 379.7 97.3 379.0 C102.0 378.3 104.6 377.8 108.0 377.5 C111.4 377.2 112.1 377.1 114.5 377.3 C116.9 377.5 116.9 377.4 119.9 378.4 C122.9 379.4 125.1 381.1 129.6 382.3 C134.1 383.5 137.9 383.8 142.6 384.6 C147.3 385.4 148.6 385.8 153.3 386.3 C158.0 386.8 149.0 387.0 166.3 387.2 C183.6 387.4 221.4 387.2 240.0 387.2 C258.6 387.2 253.4 387.7 259.4 387.1 C265.4 386.5 265.5 385.3 270.2 384.4 C274.9 383.5 277.9 383.4 283.1 382.7 C288.3 382.0 290.5 381.5 296.1 380.8 C301.7 380.1 306.0 379.6 311.2 379.0 C316.4 378.4 318.3 378.3 322.0 378.0 C325.7 377.7 326.9 377.3 329.5 377.5 C332.1 377.7 332.1 378.0 334.9 379.0 C337.7 380.0 339.6 381.2 343.5 382.3 C347.4 383.4 349.1 383.8 354.3 384.6 C359.5 385.4 362.9 385.8 369.4 386.3 C375.9 386.8 367.0 387.0 386.7 387.1 C406.4 387.2 449.8 387.2 468.0 387.0 C486.2 386.8 474.0 386.9 477.5 386.2 C481.0 385.5 482.0 384.3 485.5 383.4 C489.0 382.5 490.4 382.3 494.9 381.6 C499.4 380.9 502.9 380.4 508.1 379.8 C513.3 379.2 515.7 378.9 520.8 378.4 C525.9 377.9 529.4 377.8 533.7 377.5 C538.0 377.2 539.4 376.7 542.4 376.9 C545.4 377.1 545.8 377.3 548.8 378.4 C551.8 379.5 555.3 381.4 557.5 382.3 C559.7 383.2 556.8 382.6 560.0 383.1 C563.2 383.6 566.8 384.1 573.6 384.9 C580.4 385.7 581.3 386.5 593.9 386.9 C606.5 387.3 618.3 387.2 636.8 387.1 C655.3 387.0 674.8 387.2 686.5 386.5 C698.2 385.8 689.2 384.9 695.5 383.8 C701.8 382.7 709.1 382.0 718.1 380.8 C727.1 379.6 736.0 378.5 740.5 377.9" stroke="#bfbf00" stroke-width="4.0" fill="none" stroke-linejoin="round" stroke-linecap="butt" clip-path="url(#c3)"/>
<path d="M85.4 433.5 L86.9 433.3 L88.4 433.0 L89.9 431.3 L91.4 431.2 L92.9 430.9 L94.7 430.6 L96.4 430.9 L98.1 429.8 L99.8 428.5 L101.6 429.3 L103.2 427.8 L104.8 427.4 L106.4 426.9 L108.0 424.6 L110.2 425.6 L112.4 424.6 L114.2 425.4 L116.0 426.7 L117.7 427.8 L119.5 429.2 L121.3 432.0 L123.1 432.9 L124.8 434.6 L126.4 435.5 L128.0 435.7 L129.6 436.7 L131.3 438.0 L133.1 438.2 L134.8 437.0 L136.5 438.9 L138.2 438.9 L139.9 438.1 L141.5 439.2 L143.1 439.4 L144.7 439.5 L146.3 440.9 L147.8 442.1 L149.3 441.1 L150.9 442.7 L152.4 442.7 L154.0 441.8 L155.5 443.8 L157.0 443.4 L158.6 444.3 L160.1 444.0 L161.7 444.3 L163.2 443.6 L164.7 444.8 L166.3 445.2 L167.8 445.2 L169.4 444.4 L170.9 445.2 L172.4 444.7 L174.0 444.0 L175.5 444.0 L177.1 444.2 L178.6 444.4 L180.1 444.3 L181.7 445.0 L183.2 445.3 L184.8 444.9 L186.3 444.6 L187.9 445.0 L189.5 444.3 L191.1 444.6 L192.7 445.3 L194.3 444.5 L195.9 444.0 L197.6 445.6 L199.2 445.2 L200.8 444.4 L202.4 444.5 L204.0 444.9 L205.6 445.1 L207.3 444.3 L208.9 443.9 L210.5 444.4 L212.1 445.7 L213.7 444.4 L215.4 444.9 L217.0 444.3 L218.6 444.2 L220.2 444.0 L221.8 444.4 L223.4 443.8 L225.1 443.3 L226.7 443.4 L228.3 443.7 L229.9 444.5 L231.5 443.6 L233.1 443.7 L234.8 444.7 L236.4 444.7 L238.0 445.5 L239.6 444.2 L242.2 444.5 L243.7 444.5 L245.3 443.7 L246.8 445.7 L248.4 444.1 L249.9 443.8 L251.5 444.7 L253.1 444.0 L254.6 445.0 L256.2 444.4 L257.8 445.0 L259.4 445.9 L261.6 443.1 L263.1 441.8 L264.7 442.6 L266.2 441.6 L267.7 442.3 L269.3 440.6 L270.8 440.2 L272.4 439.9 L274.2 441.7 L276.0 441.8 L277.7 441.8 L279.5 439.9 L281.3 439.9 L283.1 439.3 L284.7 438.0 L286.2 436.2 L287.8 435.8 L289.3 435.5 L290.8 435.2 L292.4 434.4 L293.9 434.0 L295.7 434.7 L297.4 434.6 L299.1 432.4 L300.8 433.5 L302.6 431.7 L304.2 431.5 L305.8 430.7 L307.4 429.8 L309.0 426.9 L311.2 428.9 L313.3 430.9 L315.0 431.3 L316.6 429.0 L318.2 429.1 L319.8 430.0 L321.6 427.4 L323.4 427.1 L325.2 426.0 L327.0 427.5 L328.8 428.8 L330.6 427.8 L332.8 429.1 L334.9 429.0 L337.1 437.9 L338.8 437.1 L340.5 437.8 L342.2 436.5 L344.0 436.5 L345.7 435.9 L347.4 437.9 L349.1 438.0 L350.9 438.3 L352.6 438.9 L354.3 440.9 L355.9 441.1 L357.4 441.8 L358.9 441.5 L360.5 442.2 L362.0 441.9 L363.6 443.6 L365.1 442.6 L366.6 443.9 L368.2 444.8 L369.7 444.9 L371.3 444.0 L372.8 444.6 L374.4 446.2 L375.9 446.1 L377.4 446.8 L378.9 446.9 L380.4 446.1 L381.9 447.3 L383.4 447.1 L385.0 446.3 L386.5 446.6 L388.0 446.1 L389.5 446.9 L391.0 448.3 L392.5 446.4 L394.1 447.5 L395.6 446.4 L397.2 446.4 L398.7 447.6 L400.2 446.7 L401.8 446.3 L403.2 446.5 L404.9 447.6 L406.5 447.5 L408.1 446.2 L409.7 446.7 L411.3 448.3 L412.9 446.7 L415.1 448.5 L417.3 449.3 L418.9 448.2 L420.5 446.0 L422.1 446.6 L423.7 446.2 L425.3 445.6 L427.0 445.7 L428.6 445.6 L430.2 447.4 L431.8 446.0 L433.4 446.0 L435.1 448.2 L436.7 446.6 L438.2 448.1 L439.7 446.2 L441.2 447.0 L442.7 446.3 L444.2 447.6 L445.7 447.0 L447.2 447.0 L448.7 447.2 L450.3 447.3 L451.8 446.1 L453.6 447.5 L455.4 448.0 L457.2 448.2 L459.0 449.2 L460.8 448.1 L462.6 448.0 L464.3 446.5 L466.0 447.0 L467.7 446.7 L469.5 447.1 L471.2 445.5 L472.9 445.5 L474.6 445.3 L476.4 443.8 L478.1 444.3 L479.8 444.2 L481.4 443.2 L482.9 443.3 L484.4 442.9 L486.0 441.8 L487.5 441.8 L489.1 442.9 L490.6 441.1 L492.1 440.9 L493.7 439.6 L495.2 439.5 L496.8 438.9 L498.3 440.1 L499.8 439.2 L501.4 439.1 L502.9 439.1 L504.5 438.0 L506.0 438.4 L507.5 437.3 L509.1 436.8 L510.6 437.7 L512.2 437.4 L513.7 437.0 L515.2 435.4 L516.8 435.5 L518.3 434.2 L519.9 435.0 L521.4 434.3 L523.0 432.4 L524.7 433.4 L526.4 431.3 L528.1 430.7 L529.9 431.6 L531.6 430.2 L533.2 430.2 L534.8 429.9 L536.4 428.1 L538.1 429.1 L539.8 429.1 L541.6 430.5 L543.4 431.4 L545.6 431.8 L547.8 431.2 L549.4 433.1 L551.0 435.6 L552.7 436.5 L554.4 437.2 L556.2 436.9 L557.9 437.5 L559.6 439.2 L562.2 440.4 L563.7 441.4 L565.2 441.9 L566.8 442.1 L568.3 441.4 L569.9 441.4 L571.4 442.1 L572.9 442.9 L574.6 443.3 L576.2 443.5 L577.8 443.3 L579.4 444.6 L581.0 443.6 L582.6 444.2 L584.3 445.3 L585.9 445.4 L587.4 444.5 L589.0 444.6 L590.5 446.1 L592.0 444.6 L593.6 445.1 L595.1 446.3 L596.7 446.5 L598.2 445.6 L599.8 445.3 L601.4 445.6 L602.9 446.8 L604.5 446.1 L606.1 447.1 L607.7 446.7 L609.2 447.0 L610.8 444.9 L612.4 445.2 L613.9 444.7 L615.5 445.6 L617.1 445.3 L618.6 444.6 L620.2 445.7 L621.8 444.6 L623.3 445.0 L624.9 444.8 L626.5 446.0 L628.0 445.1 L629.6 444.7 L631.2 444.1 L632.8 445.0 L634.4 445.5 L636.0 445.7 L637.7 446.3 L639.3 446.1 L640.9 444.9 L642.5 444.7 L644.1 446.1 L645.7 446.3 L647.4 445.7 L649.0 446.5 L650.6 445.9 L652.2 445.3 L653.7 445.1 L655.3 444.7 L656.9 446.1 L658.4 446.7 L660.0 446.7 L661.6 445.7 L663.1 446.2 L664.7 446.7 L666.3 446.5 L667.9 446.0 L669.4 445.5 L671.0 445.6 L672.6 444.7 L674.1 444.5 L675.7 445.5 L677.3 446.0 L678.8 444.9 L680.4 444.5 L682.0 444.2 L683.5 444.3 L685.1 444.9 L686.7 443.7 L688.3 444.3 L690.0 442.1 L691.6 441.9 L693.2 441.9 L694.8 441.2 L696.4 441.7 L698.1 441.1 L699.7 441.0 L701.3 440.0 L702.9 438.4 L704.5 439.3 L706.1 438.9 L707.8 438.4 L709.4 437.6 L711.0 438.3 L712.5 438.3 L714.1 436.1 L715.6 437.0 L717.2 435.9 L718.7 435.8 L720.2 436.3 L721.8 436.0 L723.5 434.8 L725.3 433.3 L727.1 434.3 L728.8 432.1 L730.4 432.1 L732.0 432.6 L733.6 431.1 L735.2 430.5 L736.8 431.5 L738.4 431.1 L740.0 429.6" stroke="#00ffff" stroke-width="4.0" fill="none" stroke-linejoin="round" stroke-linecap="butt" clip-path="url(#c3)"/>
<path d="M84.6 119.8V0.5H740.5V119.8 M84.6 129.8V249.5H740.5V129.8 M84.6 260.3H740.5V508.9H84.6Z" stroke="#000" stroke-width="1.1" fill="none" stroke-linejoin="miter"/>
<path d="M84.6 25.5h-4.6 M84.6 75.5h-4.6 M84.6 171.6h-4.6 M84.6 223.4h-4.6 M84.6 301.7h-4.6 M84.6 384.6h-4.6 M84.6 467.4h-4.6 M84.6 249.5v4.6 M84.6 508.9v4.6 M303.2 249.5v4.6 M303.2 508.9v4.6 M521.9 249.5v4.6 M521.9 508.9v4.6 M740.5 249.5v4.6 M740.5 508.9v4.6" stroke="#000" stroke-width="1.1" fill="none"/>
<path d="M77.3 121.7L91.9 118.7 M77.3 131.2L91.9 128.2 M733.2 121.7L747.8 118.7 M733.2 131.2L747.8 128.2" stroke="#000" stroke-width="1.9" fill="none"/>
<path d="M733.4 15.5H781.6 M719.7 100.4H781.6 M774.6 15.5V100.4 M735.4 34.1H760.5 M727.8 93.8H760.5 M752.8 34.1V93.8 M737 141.9H760.8 M737.1 136.6H781.8 M725.7 148.3H781.8 M775.5 136.6V148.3 M737 197H761 M717.6 191.8H782 M697.2 224.0H782 M774.9 191.8V224.0 M710.5 270.1H796.3 M638.7 466.9H797 M788.7 270.1V466.9 M740 378.9H761.1 M637.7 386.8H761.1 M753.4 378.9V386.8 M740 428.9H761 M653.2 447.4H761 M753.4 428.9V466.9 M740 448.2H761 M640.2 457.8H761" stroke="#000" stroke-width="2.2" fill="none"/>
<text x="782.9" y="65.3" font-size="20.8" text-anchor="middle" >1</text>
<text x="761.5" y="65.3" font-size="20.8" text-anchor="middle" >2</text>
<text x="761.9" y="131.8" font-size="20.8" text-anchor="middle" >3</text>
<text x="789.6" y="147.6" font-size="20.8" text-anchor="middle" >4</text>
<text x="759.5" y="187.0" font-size="20.8" text-anchor="middle" >5</text>
<text x="788.2" y="213.3" font-size="20.8" text-anchor="middle" >6</text>
<text x="778.1" y="287.5" font-size="20.8" text-anchor="middle" >7</text>
<text x="750.4" y="371.8" font-size="20.8" text-anchor="middle" >8</text>
<text x="751.5" y="422.4" font-size="20.8" text-anchor="middle" >9</text>
<text x="774.0" y="459.2" font-size="20.8" text-anchor="middle" >10</text>
<text x="751.4" y="485.8" font-size="20.8" text-anchor="middle" >11</text>
<text x="74.8" y="33.0" font-size="22.7" text-anchor="end" textLength="39.6" lengthAdjust="spacingAndGlyphs" >100</text>
<text x="74.8" y="83.0" font-size="22.7" text-anchor="end" textLength="25.4" lengthAdjust="spacingAndGlyphs" >90</text>
<text x="74.8" y="178.9" font-size="22.7" text-anchor="end" textLength="24.4" lengthAdjust="spacingAndGlyphs" >10</text>
<text x="74.8" y="230.7" font-size="22.7" text-anchor="end" textLength="11.7" lengthAdjust="spacingAndGlyphs" >0</text>
<text x="74.8" y="309.2" font-size="22.7" text-anchor="end" textLength="25.4" lengthAdjust="spacingAndGlyphs" >20</text>
<text x="74.8" y="392.1" font-size="22.7" text-anchor="end" textLength="24.4" lengthAdjust="spacingAndGlyphs" >10</text>
<text x="74.8" y="474.9" font-size="22.7" text-anchor="end" textLength="11.7" lengthAdjust="spacingAndGlyphs" >0</text>
<text x="84.6" y="534.3" font-size="22.7" text-anchor="middle" textLength="11.7" lengthAdjust="spacingAndGlyphs" >0</text>
<text x="303.2" y="534.3" font-size="22.7" text-anchor="middle" textLength="12.2" lengthAdjust="spacingAndGlyphs" >4</text>
<text x="521.9" y="534.3" font-size="22.7" text-anchor="middle" textLength="11.7" lengthAdjust="spacingAndGlyphs" >8</text>
<text x="740.5" y="534.3" font-size="22.7" text-anchor="middle" textLength="24.8" lengthAdjust="spacingAndGlyphs" >12</text>
<text x="412.5" y="559.7" font-size="22.1" text-anchor="middle" textLength="85.8" lengthAdjust="spacingAndGlyphs" >Time (s)</text>
<g transform="translate(16.4 260.5) rotate(-90)"><text x="0.0" y="0.0" font-size="22.1" text-anchor="middle" textLength="185.5" lengthAdjust="spacingAndGlyphs" >Pressure (mmHg)</text></g>
<rect x="34.9" y="574.3" width="742.5" height="33.7" rx="3.4" fill="#8a8a8a"/>
<rect x="32.6" y="571.6" width="742.2" height="33.4" rx="3.2" fill="#fff" stroke="#cfcfcf" stroke-width="1.2"/>
<path d="M38.1 587.1H80.2" stroke="#8b0000" stroke-width="3.8"/>
<text x="93.8" y="593.9" font-size="19.8" text-anchor="start" textLength="48.2" lengthAdjust="spacingAndGlyphs" >cABP</text>
<path d="M177.3 587.1H219.3" stroke="#ff0000" stroke-width="3.8"/>
<text x="232.4" y="593.9" font-size="19.8" text-anchor="start" textLength="43.7" lengthAdjust="spacingAndGlyphs" >fABP</text>
<path d="M312.2 587.1H354.1" stroke="#007c00" stroke-width="3.8"/>
<text x="368.0" y="593.9" font-size="19.8" text-anchor="start" textLength="31.4" lengthAdjust="spacingAndGlyphs" >ICP</text>
<path d="M433.4 587.1H475.3" stroke="#00ff00" stroke-width="3.8"/>
<text x="489.0" y="593.9" font-size="19.8" text-anchor="start" textLength="28.5" lengthAdjust="spacingAndGlyphs" >ITP</text>
<path d="M553.1 587.1H595.0" stroke="#191970" stroke-width="3.8"/>
<text x="608.1" y="593.9" font-size="19.8" text-anchor="start" textLength="37.4" lengthAdjust="spacingAndGlyphs" >CVP</text>
<path d="M681.6 587.1H723.7" stroke="#0000ff" stroke-width="3.8"/>
<text x="736.1" y="593.9" font-size="19.8" text-anchor="start" textLength="31.8" lengthAdjust="spacingAndGlyphs" >JVP</text>
<rect x="71.9" y="614.5" width="668.8" height="33.1" rx="3.4" fill="#8a8a8a"/>
<rect x="69.6" y="611.8" width="668.5" height="32.8" rx="3.2" fill="#fff" stroke="#cfcfcf" stroke-width="1.2"/>
<path d="M75.2 626.8H117.1" stroke="#808080" stroke-width="3.8"/>
<text x="130.5" y="633.8" font-size="19.8" text-anchor="start" textLength="52.2" lengthAdjust="spacingAndGlyphs" >IAPds</text>
<path d="M218.3 626.8H260.2" stroke="#bfbf00" stroke-width="3.8"/>
<text x="273.8" y="633.8" font-size="19.8" text-anchor="start" textLength="29.9" lengthAdjust="spacingAndGlyphs" >IVP</text>
<path d="M338.8 626.8H380.7" stroke="#00ffff" stroke-width="3.8"/>
<text x="395.0" y="633.8" font-size="19.8" text-anchor="start" textLength="52.2" lengthAdjust="spacingAndGlyphs" >IAPve</text>
<path d="M482.8 626.8H524.7" stroke="#800080" stroke-width="3.8"/>
<text x="538.1" y="633.8" font-size="19.8" text-anchor="start" textLength="48.4" lengthAdjust="spacingAndGlyphs" >IAPcr</text>
<path d="M622.1 626.8H664.0" stroke="#ffa500" stroke-width="3.8"/>
<text x="677.1" y="633.8" font-size="19.8" text-anchor="start" textLength="52.4" lengthAdjust="spacingAndGlyphs" >IAPcd</text>
</svg>
</body></html>
